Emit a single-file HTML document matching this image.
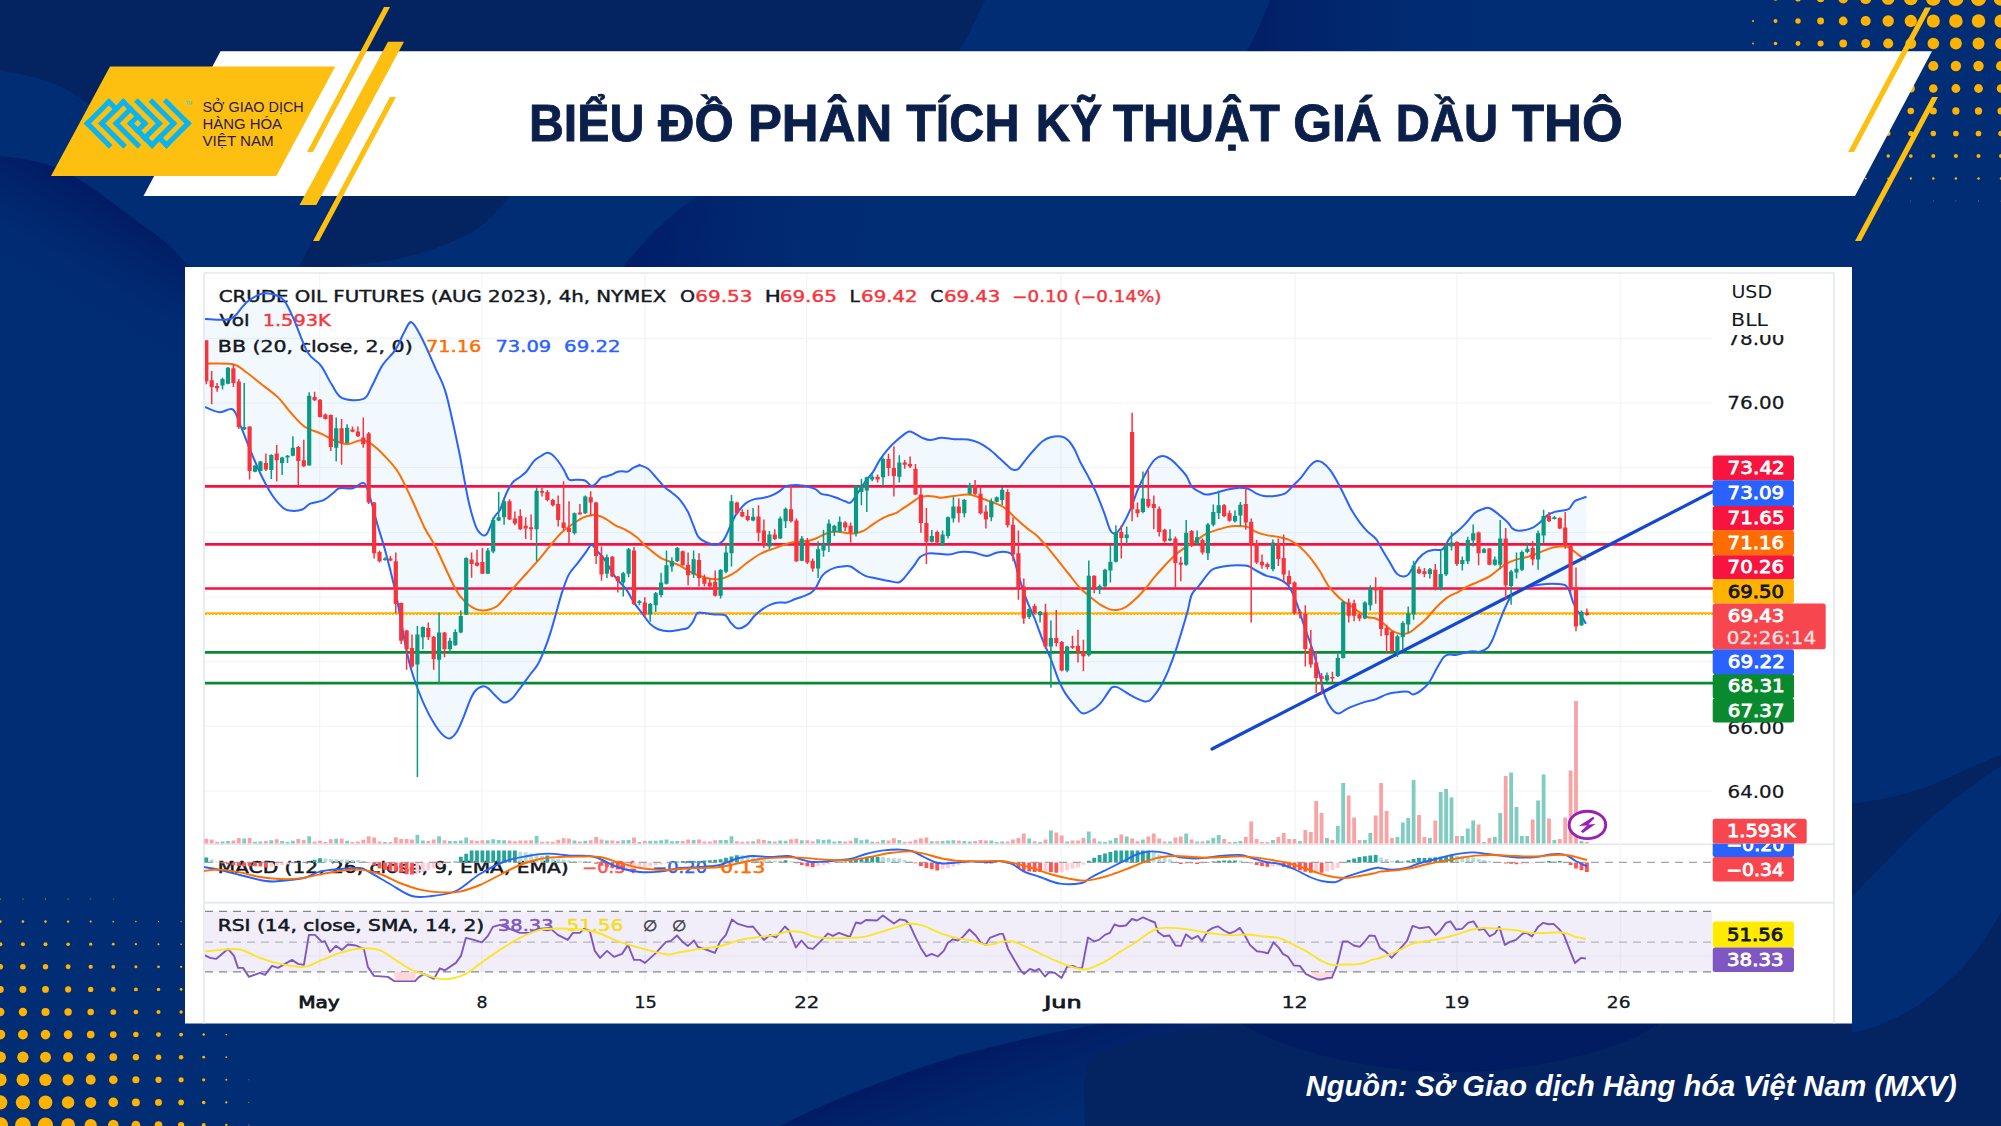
<!DOCTYPE html>
<html lang="vi"><head><meta charset="utf-8"><title>Biểu đồ phân tích kỹ thuật giá dầu thô</title>
<style>html,body{margin:0;padding:0;background:#012d74;}body{width:2001px;height:1126px;overflow:hidden;position:relative}svg{position:absolute;left:0;top:0;display:block}text{white-space:pre}</style></head><body>
<svg width="2001" height="1126" viewBox="0 0 2001 1126">
<defs>
<linearGradient id="gw1" gradientUnits="userSpaceOnUse" x1="100" y1="192" x2="40" y2="296"><stop offset="0" stop-color="#011a63"/><stop offset="1" stop-color="#012d74" stop-opacity="0"/></linearGradient>
<linearGradient id="gw2" x1="0" y1="0" x2="1" y2="0"><stop offset="0" stop-color="#021e66"/><stop offset="1" stop-color="#012d74" stop-opacity="0"/></linearGradient>
<linearGradient id="gw3" gradientUnits="userSpaceOnUse" x1="940" y1="1062" x2="985" y2="1195"><stop offset="0" stop-color="#011a62"/><stop offset="1" stop-color="#012d74" stop-opacity="0"/></linearGradient>
<linearGradient id="gw4" gradientUnits="userSpaceOnUse" x1="650" y1="230" x2="900" y2="267"><stop offset="0" stop-color="#011e69"/><stop offset="1" stop-color="#012d74" stop-opacity="0"/></linearGradient>
</defs>
<rect width="2001" height="1126" fill="#012d74"/>
<path d="M0 0 H985 C975 20 968 38 958 52 H400 V105 H90 C80 98 70 91 60 86 C40 78 20 73 0 71 Z" fill="#032361"/>
<path d="M336 196 H510 C495 215 478 232 453 241 C430 251 400 262 332 267 C320 268 310 268 300 265 L312 241 Z" fill="#032361"/>
<path d="M0 156 C20 158 38 161 53 166.6 C72 174 90 186 106.6 198.5 C126 213 144 226 160 237.6 C170 245 178 254 186 264 L230 290 L185 290 L185 620 L0 620 Z" fill="url(#gw1)"/>
<path d="M1270 0 C1262 20 1255 38 1246 52 H1520 V0 Z" fill="url(#gw2)"/>
<path d="M2001 755 C1975 765 1950 778 1927 787 C1900 796 1875 801 1852 804 V1023 H1240 C1170 1030 1110 1040 1088 1062 C1082 1080 1085 1100 1085 1126 H2001 Z" fill="#032361"/>
<path d="M2001 766 C1988 774 1977 782 1965 791 C1952 801 1940 810 1927 821 C1913 833 1901 846 1889 859 C1876 872 1864 884 1852 897 V1033 C1866 1030 1878 1026 1889 1021 C1903 1015 1916 1008 1927 999 C1941 988 1954 977 1965 965 C1979 948 1991 930 2001 912 Z" fill="#012d74"/>
<path d="M780 1126 C820 1105 860 1090 900 1075 C935 1062 965 1053 1000 1045 C1035 1036 1070 1029 1105 1023 H1240 C1170 1030 1110 1040 1088 1062 C1082 1080 1085 1100 1085 1126 Z" fill="url(#gw3)"/>
<path d="M1240 1023 C1300 1058 1390 1072 1450 1072 C1520 1072 1610 1056 1660 1023 Z" fill="#011c60"/>
<path d="M622 268 C648 236 672 213 698 196 H960 V268 Z" fill="url(#gw4)"/>
<g fill="#ffb300"><circle cx="2001.0" cy="-1.5" r="7.33"/><circle cx="1978.5" cy="-1.5" r="7.55"/><circle cx="1955.9" cy="-1.5" r="7.55"/><circle cx="1933.3" cy="-1.5" r="7.33"/><circle cx="1910.8" cy="-1.5" r="6.87"/><circle cx="1888.2" cy="-1.5" r="6.34"/><circle cx="1865.7" cy="-1.5" r="5.59"/><circle cx="1843.2" cy="-1.5" r="4.91"/><circle cx="1820.6" cy="-1.5" r="3.85"/><circle cx="1798.0" cy="-1.5" r="3.02"/><circle cx="1775.5" cy="-1.5" r="2.19"/><circle cx="1753.0" cy="-1.5" r="1.13"/><circle cx="2001.0" cy="21.0" r="6.56"/><circle cx="1978.5" cy="21.0" r="6.77"/><circle cx="1955.9" cy="21.0" r="6.77"/><circle cx="1933.3" cy="21.0" r="6.56"/><circle cx="1910.8" cy="21.0" r="6.16"/><circle cx="1888.2" cy="21.0" r="5.68"/><circle cx="1865.7" cy="21.0" r="5.01"/><circle cx="1843.2" cy="21.0" r="4.40"/><circle cx="1820.6" cy="21.0" r="3.45"/><circle cx="1798.0" cy="21.0" r="2.71"/><circle cx="1775.5" cy="21.0" r="1.96"/><circle cx="1753.0" cy="21.0" r="1.02"/><circle cx="2001.0" cy="43.5" r="5.80"/><circle cx="1978.5" cy="43.5" r="5.98"/><circle cx="1955.9" cy="43.5" r="5.98"/><circle cx="1933.3" cy="43.5" r="5.80"/><circle cx="1910.8" cy="43.5" r="5.44"/><circle cx="1888.2" cy="43.5" r="5.03"/><circle cx="1865.7" cy="43.5" r="4.43"/><circle cx="1843.2" cy="43.5" r="3.89"/><circle cx="1820.6" cy="43.5" r="3.05"/><circle cx="1798.0" cy="43.5" r="2.39"/><circle cx="1775.5" cy="43.5" r="1.73"/><circle cx="1753.0" cy="43.5" r="0.90"/><circle cx="2001.0" cy="66.0" r="5.04"/><circle cx="1978.5" cy="66.0" r="5.20"/><circle cx="1955.9" cy="66.0" r="5.20"/><circle cx="1933.3" cy="66.0" r="5.04"/><circle cx="1910.8" cy="66.0" r="4.73"/><circle cx="1888.2" cy="66.0" r="4.37"/><circle cx="1865.7" cy="66.0" r="3.85"/><circle cx="1843.2" cy="66.0" r="3.38"/><circle cx="1820.6" cy="66.0" r="2.65"/><circle cx="1798.0" cy="66.0" r="2.08"/><circle cx="1775.5" cy="66.0" r="1.51"/><circle cx="1753.0" cy="66.0" r="0.78"/><circle cx="2001.0" cy="88.5" r="4.28"/><circle cx="1978.5" cy="88.5" r="4.41"/><circle cx="1955.9" cy="88.5" r="4.41"/><circle cx="1933.3" cy="88.5" r="4.28"/><circle cx="1910.8" cy="88.5" r="4.02"/><circle cx="1888.2" cy="88.5" r="3.71"/><circle cx="1865.7" cy="88.5" r="3.27"/><circle cx="1843.2" cy="88.5" r="2.87"/><circle cx="1820.6" cy="88.5" r="2.25"/><circle cx="1798.0" cy="88.5" r="1.77"/><circle cx="1775.5" cy="88.5" r="1.28"/><circle cx="1753.0" cy="88.5" r="0.66"/><circle cx="2001.0" cy="111.0" r="3.52"/><circle cx="1978.5" cy="111.0" r="3.63"/><circle cx="1955.9" cy="111.0" r="3.63"/><circle cx="1933.3" cy="111.0" r="3.52"/><circle cx="1910.8" cy="111.0" r="3.30"/><circle cx="1888.2" cy="111.0" r="3.05"/><circle cx="1865.7" cy="111.0" r="2.68"/><circle cx="1843.2" cy="111.0" r="2.36"/><circle cx="1820.6" cy="111.0" r="1.85"/><circle cx="1798.0" cy="111.0" r="1.45"/><circle cx="1775.5" cy="111.0" r="1.05"/><circle cx="1753.0" cy="111.0" r="0.54"/><circle cx="2001.0" cy="133.5" r="2.76"/><circle cx="1978.5" cy="133.5" r="2.84"/><circle cx="1955.9" cy="133.5" r="2.84"/><circle cx="1933.3" cy="133.5" r="2.76"/><circle cx="1910.8" cy="133.5" r="2.59"/><circle cx="1888.2" cy="133.5" r="2.39"/><circle cx="1865.7" cy="133.5" r="2.10"/><circle cx="1843.2" cy="133.5" r="1.85"/><circle cx="1820.6" cy="133.5" r="1.45"/><circle cx="1798.0" cy="133.5" r="1.14"/><circle cx="1775.5" cy="133.5" r="0.82"/><circle cx="1753.0" cy="133.5" r="0.43"/><circle cx="2001.0" cy="156.0" r="2.00"/><circle cx="1978.5" cy="156.0" r="2.06"/><circle cx="1955.9" cy="156.0" r="2.06"/><circle cx="1933.3" cy="156.0" r="2.00"/><circle cx="1910.8" cy="156.0" r="1.87"/><circle cx="1888.2" cy="156.0" r="1.73"/><circle cx="1865.7" cy="156.0" r="1.52"/><circle cx="1843.2" cy="156.0" r="1.34"/><circle cx="1820.6" cy="156.0" r="1.05"/><circle cx="1798.0" cy="156.0" r="0.82"/><circle cx="1775.5" cy="156.0" r="0.60"/><circle cx="2001.0" cy="178.5" r="1.24"/><circle cx="1978.5" cy="178.5" r="1.27"/><circle cx="1955.9" cy="178.5" r="1.27"/><circle cx="1933.3" cy="178.5" r="1.24"/><circle cx="1910.8" cy="178.5" r="1.16"/><circle cx="1888.2" cy="178.5" r="1.07"/><circle cx="1865.7" cy="178.5" r="0.94"/><circle cx="1843.2" cy="178.5" r="0.83"/><circle cx="1820.6" cy="178.5" r="0.65"/><circle cx="1798.0" cy="178.5" r="0.51"/><circle cx="2001.0" cy="201.0" r="0.47"/><circle cx="1978.5" cy="201.0" r="0.49"/><circle cx="1955.9" cy="201.0" r="0.49"/><circle cx="1933.3" cy="201.0" r="0.47"/><circle cx="1910.8" cy="201.0" r="0.44"/><circle cx="1888.2" cy="201.0" r="0.41"/><circle cx="0.3" cy="1125.0" r="7.80"/><circle cx="22.9" cy="1125.0" r="7.80"/><circle cx="45.5" cy="1125.0" r="7.57"/><circle cx="68.1" cy="1125.0" r="6.86"/><circle cx="90.7" cy="1125.0" r="6.08"/><circle cx="113.3" cy="1125.0" r="5.30"/><circle cx="135.9" cy="1125.0" r="4.37"/><circle cx="158.5" cy="1125.0" r="3.82"/><circle cx="181.1" cy="1125.0" r="3.12"/><circle cx="203.7" cy="1125.0" r="1.95"/><circle cx="226.3" cy="1125.0" r="1.25"/><circle cx="248.9" cy="1125.0" r="0.55"/><circle cx="0.3" cy="1102.4" r="7.08"/><circle cx="22.9" cy="1102.4" r="7.08"/><circle cx="45.5" cy="1102.4" r="6.87"/><circle cx="68.1" cy="1102.4" r="6.23"/><circle cx="90.7" cy="1102.4" r="5.52"/><circle cx="113.3" cy="1102.4" r="4.82"/><circle cx="135.9" cy="1102.4" r="3.97"/><circle cx="158.5" cy="1102.4" r="3.47"/><circle cx="181.1" cy="1102.4" r="2.83"/><circle cx="203.7" cy="1102.4" r="1.77"/><circle cx="226.3" cy="1102.4" r="1.13"/><circle cx="248.9" cy="1102.4" r="0.50"/><circle cx="0.3" cy="1079.8" r="6.36"/><circle cx="22.9" cy="1079.8" r="6.36"/><circle cx="45.5" cy="1079.8" r="6.17"/><circle cx="68.1" cy="1079.8" r="5.60"/><circle cx="90.7" cy="1079.8" r="4.96"/><circle cx="113.3" cy="1079.8" r="4.33"/><circle cx="135.9" cy="1079.8" r="3.56"/><circle cx="158.5" cy="1079.8" r="3.12"/><circle cx="181.1" cy="1079.8" r="2.55"/><circle cx="203.7" cy="1079.8" r="1.59"/><circle cx="226.3" cy="1079.8" r="1.02"/><circle cx="248.9" cy="1079.8" r="0.45"/><circle cx="0.3" cy="1057.2" r="5.64"/><circle cx="22.9" cy="1057.2" r="5.64"/><circle cx="45.5" cy="1057.2" r="5.47"/><circle cx="68.1" cy="1057.2" r="4.97"/><circle cx="90.7" cy="1057.2" r="4.40"/><circle cx="113.3" cy="1057.2" r="3.84"/><circle cx="135.9" cy="1057.2" r="3.16"/><circle cx="158.5" cy="1057.2" r="2.77"/><circle cx="181.1" cy="1057.2" r="2.26"/><circle cx="203.7" cy="1057.2" r="1.41"/><circle cx="226.3" cy="1057.2" r="0.90"/><circle cx="0.3" cy="1034.6" r="4.93"/><circle cx="22.9" cy="1034.6" r="4.93"/><circle cx="45.5" cy="1034.6" r="4.78"/><circle cx="68.1" cy="1034.6" r="4.33"/><circle cx="90.7" cy="1034.6" r="3.84"/><circle cx="113.3" cy="1034.6" r="3.35"/><circle cx="135.9" cy="1034.6" r="2.76"/><circle cx="158.5" cy="1034.6" r="2.41"/><circle cx="181.1" cy="1034.6" r="1.97"/><circle cx="203.7" cy="1034.6" r="1.23"/><circle cx="226.3" cy="1034.6" r="0.79"/><circle cx="0.3" cy="1012.0" r="4.21"/><circle cx="22.9" cy="1012.0" r="4.21"/><circle cx="45.5" cy="1012.0" r="4.08"/><circle cx="68.1" cy="1012.0" r="3.70"/><circle cx="90.7" cy="1012.0" r="3.28"/><circle cx="113.3" cy="1012.0" r="2.86"/><circle cx="135.9" cy="1012.0" r="2.36"/><circle cx="158.5" cy="1012.0" r="2.06"/><circle cx="181.1" cy="1012.0" r="1.68"/><circle cx="203.7" cy="1012.0" r="1.05"/><circle cx="226.3" cy="1012.0" r="0.67"/><circle cx="0.3" cy="989.4" r="3.49"/><circle cx="22.9" cy="989.4" r="3.49"/><circle cx="45.5" cy="989.4" r="3.38"/><circle cx="68.1" cy="989.4" r="3.07"/><circle cx="90.7" cy="989.4" r="2.72"/><circle cx="113.3" cy="989.4" r="2.37"/><circle cx="135.9" cy="989.4" r="1.95"/><circle cx="158.5" cy="989.4" r="1.71"/><circle cx="181.1" cy="989.4" r="1.40"/><circle cx="203.7" cy="989.4" r="0.87"/><circle cx="226.3" cy="989.4" r="0.56"/><circle cx="0.3" cy="966.8" r="2.77"/><circle cx="22.9" cy="966.8" r="2.77"/><circle cx="45.5" cy="966.8" r="2.69"/><circle cx="68.1" cy="966.8" r="2.44"/><circle cx="90.7" cy="966.8" r="2.16"/><circle cx="113.3" cy="966.8" r="1.88"/><circle cx="135.9" cy="966.8" r="1.55"/><circle cx="158.5" cy="966.8" r="1.36"/><circle cx="181.1" cy="966.8" r="1.11"/><circle cx="203.7" cy="966.8" r="0.69"/><circle cx="226.3" cy="966.8" r="0.44"/><circle cx="0.3" cy="944.2" r="2.05"/><circle cx="22.9" cy="944.2" r="2.05"/><circle cx="45.5" cy="944.2" r="1.99"/><circle cx="68.1" cy="944.2" r="1.80"/><circle cx="90.7" cy="944.2" r="1.60"/><circle cx="113.3" cy="944.2" r="1.39"/><circle cx="135.9" cy="944.2" r="1.15"/><circle cx="158.5" cy="944.2" r="1.00"/><circle cx="181.1" cy="944.2" r="0.82"/><circle cx="203.7" cy="944.2" r="0.51"/><circle cx="0.3" cy="921.6" r="1.33"/><circle cx="22.9" cy="921.6" r="1.33"/><circle cx="45.5" cy="921.6" r="1.29"/><circle cx="68.1" cy="921.6" r="1.17"/><circle cx="90.7" cy="921.6" r="1.04"/><circle cx="113.3" cy="921.6" r="0.91"/><circle cx="135.9" cy="921.6" r="0.75"/><circle cx="158.5" cy="921.6" r="0.65"/><circle cx="181.1" cy="921.6" r="0.53"/><circle cx="0.3" cy="899.0" r="0.61"/><circle cx="22.9" cy="899.0" r="0.61"/><circle cx="45.5" cy="899.0" r="0.59"/><circle cx="68.1" cy="899.0" r="0.54"/><circle cx="90.7" cy="899.0" r="0.48"/><circle cx="113.3" cy="899.0" r="0.42"/></g>
<path d="M220.5 51.3 H1932 L1855 196 H143.5 Z" fill="#fff"/>
<path d="M110 66.4 H335.3 L276.3 176 H51 Z" fill="#fdc010"/>
<g fill="#fdc010"><path d="M384 7 H390 L313 152 H307 Z"/><path d="M388 41.7 H404 L316.3 205 H299.5 Z"/><path d="M390 97 H396 L319 241 H313 Z"/></g>
<g fill="#fdc010"><path d="M1925 7.5 H1931 L1854 152 H1848 Z"/><path d="M1932 97 H1938 L1861 241 H1855 Z"/></g>
<g font-family="'Liberation Sans', sans-serif" font-weight="bold" font-size="51" fill="#0b1f4b" stroke="#0b1f4b" stroke-width="0.9"><text transform="translate(528.96 141) scale(0.9473 1)">BIỂU</text><text transform="translate(658.00 141) scale(0.9902 1)">ĐỒ</text><text transform="translate(747.90 141) scale(0.9987 1)">PHÂN</text><text transform="translate(906.20 141) scale(0.9522 1)">TÍCH</text><text transform="translate(1035.79 141) scale(0.9362 1)">KỸ</text><text transform="translate(1113.00 141) scale(0.9650 1)">THUẬT</text><text transform="translate(1293.14 141) scale(0.9779 1)">GIÁ</text><text transform="translate(1395.82 141) scale(0.9268 1)">DẦU</text><text transform="translate(1512.00 141) scale(1.0294 1)">THÔ</text></g>
<g transform="matrix(3.5980 3.5980 3.5980 -3.5980 137.7 123.46)" fill="#0ab4ef"><rect x="-7.5" y="-7.5" width="1" height="7"/><rect x="-5.5" y="-5.5" width="1" height="7"/><rect x="-3.5" y="-3.5" width="1" height="5"/><rect x="-1.5" y="-1.5" width="1" height="3"/><rect x="0.5" y="-1.5" width="1" height="3"/><rect x="2.5" y="-1.5" width="1" height="5"/><rect x="4.5" y="-1.5" width="1" height="7"/><rect x="6.5" y="0.5" width="1" height="7"/><rect x="-7.5" y="-7.5" width="7.0" height="1"/><rect x="-5.5" y="-5.5" width="7.0" height="1"/><rect x="-3.5" y="-3.5" width="7.0" height="1"/><rect x="-7.5" y="-1.5" width="3.0" height="1"/><rect x="-1.5" y="-1.5" width="7.0" height="1"/><rect x="-5.5" y="0.5" width="7.0" height="1"/><rect x="4.5" y="0.5" width="3.0" height="1"/><rect x="-3.5" y="2.5" width="7.0" height="1"/><rect x="-1.5" y="4.5" width="7.0" height="1"/><rect x="0.5" y="6.5" width="7.0" height="1"/></g>
<text x="185.5" y="105.3" font-family="'Liberation Sans', sans-serif" font-size="4.6" font-weight="bold" fill="#6cc5b0">TM</text>
<g font-family="'Liberation Sans', sans-serif" font-size="14" fill="#2b1a55"><text x="202.5" y="111.9" textLength="101.2" lengthAdjust="spacingAndGlyphs">SỞ GIAO DỊCH</text><text x="202.5" y="128.7" textLength="79.4" lengthAdjust="spacingAndGlyphs">HÀNG HÓA</text><text x="202.5" y="145.9" textLength="71.2" lengthAdjust="spacingAndGlyphs">VIỆT NAM</text></g>
<rect x="185" y="267" width="1667" height="756.5" fill="#fff"/>
<g fill="none" stroke="#e3e6ee" stroke-width="1.6"><path d="M204 273 H1834 V1023.5"/><path d="M204 273 V1023.5"/><path d="M204 844.2 H1834 M204 902.6 H1834"/></g>
<g stroke="#f2f4f8" stroke-width="1.2" fill="none"><path d="M319.7 274 V982"/><path d="M481.8 274 V982"/><path d="M645 274 V982"/><path d="M806.8 274 V982"/><path d="M1061 274 V982"/><path d="M1295 274 V982"/><path d="M1457 274 V982"/><path d="M1620.3 274 V982"/><path d="M205 338.3 H1712"/><path d="M205 403 H1712"/><path d="M205 467.7 H1712"/><path d="M205 532.3 H1712"/><path d="M205 597 H1712"/><path d="M205 661.7 H1712"/><path d="M205 726.3 H1712"/><path d="M205 791 H1712"/></g>
<clipPath id="cp"><rect x="205" y="274" width="1508" height="570"/></clipPath>
<g clip-path="url(#cp)">
<path d="M205.0 319.0C209.2 319.0 224.1 321.0 230.3 319.0C236.5 317.0 239.2 310.1 242.3 307.0C245.4 303.9 245.6 302.5 249.0 300.3C252.3 298.1 257.8 294.5 262.3 293.6C266.7 292.8 271.8 293.6 275.6 295.0C279.4 296.3 281.8 297.4 284.9 301.6C288.0 305.9 290.5 311.9 294.3 320.3C298.0 328.7 303.1 344.7 307.6 352.3C312.0 359.8 316.9 360.3 320.9 365.6C324.9 370.9 328.0 378.8 331.6 384.3C335.1 389.7 336.9 395.7 342.2 398.1C347.6 400.6 358.7 400.8 363.5 398.9C368.4 397.0 368.4 392.5 371.5 386.9C374.7 381.4 378.2 371.8 382.2 365.6C386.2 359.4 392.0 354.9 395.5 349.6C399.1 344.3 400.9 338.2 403.5 333.6C406.2 329.0 408.4 321.3 411.5 322.2C414.6 323.1 418.2 331.3 422.2 339.0C426.2 346.6 431.7 359.8 435.5 368.3C439.3 376.7 442.2 381.6 444.8 389.6C447.5 397.6 449.0 405.6 451.5 416.2C453.9 426.9 456.8 440.2 459.5 453.5C462.1 466.9 465.3 485.5 467.5 496.2C469.7 506.8 471.0 511.7 472.8 517.5C474.6 523.3 475.9 527.9 478.1 530.8C480.4 533.7 483.5 537.0 486.1 534.8C488.8 532.6 491.8 521.6 494.1 517.5C496.4 513.4 498.4 513.0 500.0 510.0C501.6 506.9 502.5 502.6 504.0 499.0C505.5 495.3 507.3 491.0 509.0 488.0C510.7 485.0 512.2 482.8 514.0 481.0C515.8 479.1 518.0 478.5 520.0 477.0C522.0 475.5 524.2 474.0 526.0 472.0C527.8 470.0 529.5 467.0 531.0 465.0C532.5 463.0 533.3 461.5 535.0 460.0C536.6 458.5 539.0 457.2 541.0 456.0C543.0 454.8 545.1 452.9 547.0 452.7C548.8 452.4 550.1 453.1 552.0 454.5C553.8 455.9 556.0 458.4 558.0 461.0C560.0 463.6 562.1 466.9 564.0 470.0C565.8 473.1 567.0 477.8 569.0 479.5C571.0 481.1 573.3 479.6 576.0 479.8C578.6 479.9 582.5 479.5 585.0 480.5C587.5 481.5 589.3 485.1 591.0 485.8C592.6 486.4 593.3 485.8 595.0 484.5C596.6 483.2 599.1 479.3 600.9 478.0C602.8 476.6 604.1 477.1 605.9 476.5C607.8 475.9 610.1 475.2 611.9 474.5C613.8 473.7 615.3 472.5 616.9 472.0C618.6 471.4 620.1 471.3 621.9 471.2C623.8 471.1 626.1 472.0 627.9 471.5C629.8 470.9 631.0 469.0 632.9 468.0C634.8 466.9 638.3 465.6 639.4 465.2C640.6 464.7 638.6 464.7 640.0 465.3C641.4 465.9 645.3 466.7 648.0 468.7C650.7 470.7 653.3 474.3 656.0 477.3C658.7 480.2 661.3 484.0 664.0 486.6C666.6 489.2 669.3 490.5 672.0 492.7C674.6 494.9 677.3 496.7 680.0 499.9C682.6 503.1 685.7 507.7 688.0 511.9C690.2 516.1 691.5 521.0 693.3 525.2C695.1 529.4 696.4 534.3 698.6 537.2C700.8 540.1 703.7 541.3 706.6 542.5C709.5 543.8 713.3 544.9 715.9 544.7C718.6 544.5 720.8 542.9 722.6 541.2C724.4 539.5 725.3 537.2 726.6 534.5C727.9 531.9 729.0 528.6 730.6 525.2C732.1 521.9 734.1 517.5 735.9 514.6C737.7 511.7 739.5 509.9 741.2 507.9C743.0 505.9 744.4 504.0 746.6 502.6C748.8 501.1 751.9 499.9 754.6 499.1C757.2 498.4 759.9 498.6 762.6 498.0C765.2 497.5 767.9 496.9 770.6 495.9C773.2 494.9 776.1 493.5 778.5 491.9C781.0 490.4 783.0 487.7 785.2 486.6C787.4 485.5 789.4 485.5 791.9 485.3C794.3 485.0 797.2 485.0 799.9 485.3C802.5 485.5 805.2 485.9 807.9 486.6C810.5 487.3 813.6 488.1 815.8 489.3C818.1 490.5 819.0 492.8 821.2 493.8C823.4 494.8 826.5 494.7 829.2 495.4C831.8 496.1 834.5 497.1 837.2 498.0C839.8 499.0 842.9 500.5 845.2 501.2C847.4 502.0 848.7 503.5 850.5 502.6C852.3 501.7 854.0 498.4 855.8 495.9C857.6 493.5 859.4 490.6 861.1 487.9C862.9 485.3 864.5 482.6 866.5 479.9C868.5 477.3 870.9 475.3 873.1 471.9C875.3 468.6 877.3 463.7 879.8 459.9C882.2 456.2 885.1 452.4 887.8 449.3C890.4 446.2 893.1 443.7 895.8 441.3C898.4 438.9 901.5 436.3 903.8 434.6C906.0 433.0 907.3 431.7 909.1 431.4C910.9 431.2 912.2 432.2 914.4 433.3C916.6 434.4 919.8 436.7 922.4 437.8C925.1 438.9 927.3 440.0 930.4 440.0C933.6 440.0 937.3 438.0 941.3 437.8C945.4 437.7 950.2 438.9 954.6 439.2C959.1 439.4 964.0 438.9 968.0 439.4C972.0 440.0 975.1 441.0 978.6 442.6C982.2 444.3 985.7 446.6 989.3 449.3C992.8 452.0 996.8 455.8 999.9 458.6C1003.0 461.4 1005.7 464.2 1007.9 466.1C1010.1 467.9 1011.5 469.4 1013.3 469.8C1015.0 470.2 1016.4 470.6 1018.6 468.7C1020.8 466.9 1023.9 461.9 1026.6 458.6C1029.2 455.4 1031.9 452.2 1034.6 449.3C1037.2 446.4 1039.9 443.3 1042.6 441.3C1045.2 439.3 1047.4 438.1 1050.6 437.3C1053.7 436.5 1058.3 436.1 1061.2 436.5C1064.1 436.9 1065.6 437.8 1067.9 440.0C1070.1 442.1 1072.5 445.7 1074.5 449.3C1076.5 452.8 1077.6 456.8 1079.9 461.3C1082.1 465.7 1085.2 470.8 1087.9 475.9C1090.5 481.0 1093.2 485.9 1095.8 491.9C1098.5 497.9 1101.4 505.5 1103.8 511.9C1106.3 518.3 1108.5 527.0 1110.5 530.6C1112.5 534.1 1113.8 534.1 1115.8 533.2C1117.8 532.3 1120.0 529.2 1122.5 525.2C1124.9 521.2 1127.8 515.5 1130.5 509.2C1133.1 503.0 1135.8 494.1 1138.5 487.9C1141.1 481.7 1143.8 476.6 1146.5 471.9C1149.1 467.3 1151.8 462.6 1154.5 459.9C1157.1 457.3 1159.8 456.1 1162.5 456.0C1165.1 455.8 1167.8 457.4 1170.4 459.1C1173.1 460.9 1175.8 463.8 1178.4 466.6C1181.1 469.4 1184.2 472.6 1186.4 475.9C1188.7 479.3 1189.5 483.9 1191.8 486.6C1194.0 489.3 1197.1 490.6 1199.8 491.9C1202.4 493.3 1203.3 494.9 1207.7 494.6C1212.2 494.2 1221.7 490.9 1226.6 489.8C1231.6 488.7 1233.7 488.1 1237.3 487.9C1240.9 487.8 1244.8 487.9 1248.0 488.7C1251.1 489.6 1253.3 492.1 1256.0 493.3C1258.6 494.5 1260.8 495.5 1263.9 495.9C1267.1 496.4 1271.0 496.4 1274.6 495.9C1278.2 495.5 1282.1 495.0 1285.3 493.3C1288.4 491.5 1290.6 487.9 1293.3 485.3C1295.9 482.6 1298.6 480.4 1301.2 477.3C1303.9 474.2 1306.8 469.3 1309.2 466.6C1311.7 464.0 1313.7 462.0 1315.9 461.3C1318.1 460.6 1320.1 461.1 1322.6 462.6C1325.0 464.2 1327.9 467.1 1330.6 470.6C1333.2 474.2 1336.1 479.5 1338.5 483.9C1341.0 488.4 1343.0 492.8 1345.2 497.3C1347.4 501.7 1349.4 506.4 1351.9 510.6C1354.3 514.8 1357.2 519.0 1359.9 522.6C1362.5 526.1 1365.2 529.2 1367.9 531.9C1370.5 534.6 1373.6 535.9 1375.8 538.6C1378.1 541.2 1379.0 544.1 1381.2 547.9C1383.4 551.7 1386.5 556.9 1389.2 561.2C1391.8 565.6 1394.3 571.6 1397.2 574.0C1400.0 576.4 1404.0 576.7 1406.5 575.9C1408.9 575.1 1409.8 572.1 1411.8 569.2C1413.8 566.3 1416.0 561.4 1418.5 558.5C1420.9 555.7 1423.8 553.3 1426.5 551.9C1429.1 550.4 1431.8 550.2 1434.5 549.8C1437.1 549.3 1439.8 551.3 1442.5 549.2C1445.1 547.1 1447.8 540.3 1450.4 537.2C1453.1 534.1 1455.8 533.0 1458.4 530.6C1461.1 528.1 1463.8 525.5 1466.4 522.6C1469.1 519.7 1471.8 515.5 1474.4 513.3C1477.1 511.0 1479.8 510.1 1482.4 509.3C1485.1 508.5 1486.4 506.5 1490.4 508.5C1494.4 510.5 1503.0 518.0 1506.6 521.3C1510.2 524.5 1510.2 526.4 1511.9 527.9C1513.7 529.5 1515.0 530.2 1517.3 530.6C1519.5 530.9 1522.6 530.6 1525.3 530.1C1527.9 529.5 1530.8 528.6 1533.3 527.4C1535.7 526.1 1537.7 524.5 1539.9 522.6C1542.1 520.7 1544.1 517.7 1546.6 515.9C1549.0 514.2 1551.9 512.8 1554.6 511.9C1557.2 511.0 1560.1 511.1 1562.6 510.6C1565.0 510.1 1567.2 510.3 1569.2 508.7C1571.2 507.2 1572.6 503.0 1574.5 501.3C1576.5 499.6 1579.2 499.4 1581.2 498.6C1583.2 497.9 1585.6 497.1 1586.5 496.8L1586.0 623.8C1585.2 622.5 1582.7 618.1 1581.2 615.8C1579.7 613.6 1578.5 612.7 1577.2 610.5C1575.9 608.3 1574.5 605.9 1573.2 602.5C1571.9 599.2 1570.6 593.4 1569.2 590.5C1567.9 587.6 1567.2 586.3 1565.2 585.2C1563.2 584.1 1560.3 584.1 1557.2 583.9C1554.1 583.7 1550.1 583.7 1546.6 583.9C1543.0 584.1 1539.5 584.5 1535.9 585.2C1532.4 585.9 1528.4 586.8 1525.3 587.9C1522.1 589.0 1519.7 590.3 1517.3 591.9C1514.8 593.4 1512.8 594.1 1510.6 597.2C1508.4 600.3 1506.2 605.4 1503.9 610.5C1501.7 615.6 1498.9 623.2 1497.1 627.8C1495.3 632.5 1494.6 635.1 1493.1 638.5C1491.5 641.8 1490.0 645.6 1487.7 647.8C1485.5 650.0 1482.4 651.2 1479.8 651.8C1477.1 652.4 1474.4 651.0 1471.8 651.3C1469.1 651.5 1466.4 652.5 1463.8 653.1C1461.1 653.7 1458.2 654.8 1455.8 655.0C1453.3 655.2 1451.1 654.1 1449.1 654.5C1447.1 654.8 1445.8 654.9 1443.8 657.1C1441.8 659.3 1439.6 663.6 1437.1 667.8C1434.7 672.0 1431.8 678.7 1429.1 682.4C1426.5 686.2 1423.8 688.4 1421.1 690.4C1418.5 692.4 1415.4 694.2 1413.1 694.4C1410.9 694.6 1410.5 692.1 1407.8 691.8C1405.2 691.4 1400.7 691.8 1397.2 692.3C1393.6 692.7 1390.1 693.3 1386.5 694.4C1383.0 695.6 1379.4 698.0 1375.8 699.2C1372.3 700.5 1368.7 700.8 1365.2 701.9C1361.6 703.0 1357.6 704.4 1354.5 705.6C1351.4 706.8 1349.2 707.7 1346.5 709.1C1343.9 710.4 1341.0 713.6 1338.5 713.6C1336.1 713.6 1334.1 711.8 1331.9 709.1C1329.7 706.3 1327.2 702.6 1325.2 697.1C1323.2 691.5 1322.1 684.0 1319.9 675.8C1317.7 667.6 1314.6 656.2 1311.9 647.8C1309.2 639.4 1306.6 632.9 1303.9 625.2C1301.2 617.4 1298.6 607.8 1295.9 601.2C1293.3 594.5 1291.0 589.0 1287.9 585.2C1284.8 581.4 1280.8 580.1 1277.3 578.5C1273.7 577.0 1270.2 577.2 1266.6 575.9C1263.1 574.5 1259.1 572.2 1256.0 570.5C1252.8 568.9 1251.1 566.9 1248.0 566.0C1244.8 565.1 1240.9 565.2 1237.3 565.2C1233.7 565.2 1230.7 565.3 1226.6 566.0C1222.6 566.7 1216.4 567.5 1213.1 569.2C1209.7 570.8 1208.9 573.0 1206.4 575.8C1204.0 578.7 1200.9 583.4 1198.4 586.5C1196.0 589.6 1193.5 590.5 1191.8 594.5C1190.0 598.5 1189.3 604.7 1187.8 610.5C1186.2 616.3 1184.4 622.5 1182.4 629.1C1180.4 635.8 1178.2 643.3 1175.8 650.4C1173.3 657.6 1170.4 665.5 1167.8 671.8C1165.1 678.0 1162.5 683.3 1159.8 687.7C1157.1 692.2 1153.6 696.2 1151.8 698.4C1150.0 700.6 1150.5 700.3 1149.2 700.7C1147.9 701.2 1146.5 701.9 1143.9 701.3C1141.2 700.6 1136.3 698.3 1133.2 696.7C1130.1 695.2 1127.9 693.5 1125.2 691.9C1122.6 690.3 1119.5 687.9 1117.2 687.1C1115.0 686.4 1113.7 686.2 1111.9 687.4C1110.1 688.7 1108.6 691.8 1106.6 694.6C1104.6 697.4 1102.4 701.4 1099.9 703.9C1097.5 706.5 1094.8 708.5 1091.9 710.1C1089.0 711.6 1085.5 714.1 1082.6 713.3C1079.7 712.5 1077.5 708.6 1074.6 705.3C1071.7 701.9 1067.9 697.3 1065.2 693.1C1062.5 688.8 1061.0 685.5 1058.5 679.8C1056.1 674.0 1053.2 665.1 1050.6 658.4C1047.9 651.8 1045.2 646.4 1042.6 639.8C1039.9 633.1 1037.2 625.1 1034.6 618.5C1031.9 611.8 1029.2 606.9 1026.6 599.8C1023.9 592.7 1020.8 583.0 1018.6 575.8C1016.4 568.7 1015.0 561.1 1013.3 557.2C1011.5 553.3 1010.6 553.2 1007.9 552.4C1005.3 551.6 1000.8 551.8 997.3 552.4C993.7 553.0 990.6 555.9 986.6 555.9C982.6 555.9 977.7 553.1 973.3 552.4C968.8 551.7 964.0 551.5 960.0 551.9C956.0 552.2 954.0 554.3 949.3 554.5C944.6 554.8 935.6 553.3 931.7 553.2C927.9 553.1 928.4 553.3 926.4 554.0C924.4 554.7 921.8 555.3 919.8 557.2C917.8 559.1 916.2 562.7 914.4 565.2C912.6 567.6 910.9 569.6 909.1 571.8C907.3 574.1 905.5 576.7 903.8 578.5C902.0 580.3 900.7 582.1 898.4 582.5C896.2 583.0 893.1 581.6 890.4 581.2C887.8 580.7 885.1 580.4 882.5 579.8C879.8 579.3 877.1 578.6 874.5 578.0C871.8 577.4 869.1 577.4 866.5 576.4C863.8 575.4 861.1 573.5 858.5 571.8C855.8 570.2 853.1 567.4 850.5 566.5C847.8 565.6 845.2 566.3 842.5 566.5C839.8 566.7 837.2 567.0 834.5 567.9C831.8 568.7 828.7 570.3 826.5 571.8C824.3 573.4 823.0 574.5 821.2 577.2C819.4 579.8 817.6 585.2 815.8 587.8C814.1 590.5 812.7 591.7 810.5 593.2C808.3 594.6 805.2 595.6 802.5 596.6C799.9 597.6 797.2 598.3 794.5 599.3C791.9 600.3 789.2 602.0 786.5 602.5C783.9 603.0 781.2 602.1 778.5 602.5C775.9 602.8 773.2 603.5 770.6 604.6C767.9 605.7 765.2 607.3 762.6 609.1C759.9 611.0 757.2 613.1 754.6 615.8C751.9 618.5 749.5 623.0 746.6 625.1C743.7 627.2 739.9 628.8 737.2 628.3C734.6 627.9 732.6 624.6 730.6 622.5C728.6 620.3 727.9 616.6 725.3 615.3C722.6 613.9 718.2 614.8 714.6 614.5C711.0 614.1 706.8 613.4 703.9 613.1C701.1 612.9 699.1 611.8 697.3 613.1C695.5 614.5 694.8 618.7 693.3 621.1C691.7 623.6 690.2 626.4 688.0 627.8C685.7 629.2 683.1 629.1 680.0 629.7C676.9 630.2 673.0 631.3 669.3 631.3C665.7 631.2 661.3 630.4 658.1 629.2C654.9 628.0 652.7 626.5 650.1 623.9C647.4 621.2 644.8 616.8 642.1 613.2C639.4 609.7 636.8 606.6 634.1 602.6C631.4 598.6 629.2 593.5 626.1 589.2C623.0 585.0 619.0 582.1 615.4 577.2C611.9 572.4 607.9 564.4 604.8 559.9C601.7 555.5 599.0 553.1 596.8 550.6C594.6 548.1 593.2 544.5 591.5 544.7C589.7 545.0 588.4 549.0 586.1 551.9C583.9 554.9 581.0 558.8 578.1 562.6C575.3 566.4 571.5 569.7 568.8 574.6C566.2 579.5 564.2 585.9 562.2 591.9C560.2 597.9 558.6 604.3 556.8 610.6C555.1 616.8 553.3 623.4 551.5 629.2C549.7 635.0 548.4 639.4 546.2 645.2C544.0 651.0 540.8 659.0 538.2 663.8C535.5 668.7 533.3 670.3 530.2 674.5C527.1 678.7 522.6 685.1 519.5 689.1C516.4 693.2 514.2 696.8 511.5 699.0C508.9 701.2 506.4 703.2 503.5 702.5C500.7 701.7 496.9 696.9 494.2 694.5C491.6 692.0 489.6 689.1 487.6 687.8C485.6 686.5 484.2 686.0 482.2 686.5C480.2 686.9 477.6 688.3 475.6 690.5C473.6 692.7 472.2 695.4 470.2 699.8C468.2 704.2 465.8 711.8 463.6 717.1C461.4 722.5 459.2 728.2 456.9 731.8C454.6 735.3 452.2 738.0 449.7 738.4C447.3 738.9 444.8 736.9 442.3 734.4C439.7 732.0 436.9 728.0 434.3 723.8C431.6 719.6 428.9 714.7 426.3 709.1C423.6 703.6 421.0 697.6 418.3 690.5C415.6 683.4 412.5 674.5 410.3 666.5C408.1 658.5 406.7 651.4 405.0 642.5C403.2 633.6 401.4 622.5 399.6 613.2C397.9 603.9 396.8 597.2 394.3 586.6C391.8 575.9 387.8 560.1 384.9 549.5C382.0 538.9 379.5 532.2 376.9 522.8C374.2 513.5 371.1 500.2 368.9 493.5C366.7 486.9 366.2 483.7 363.5 482.9C360.9 482.0 356.9 487.3 352.9 488.2C348.9 489.1 342.7 487.5 339.6 488.2C336.5 488.9 336.9 490.2 334.2 492.2C331.6 494.2 327.6 498.3 323.6 500.2C319.6 502.1 313.8 502.1 310.2 503.6C306.7 505.2 305.4 508.3 302.3 509.5C299.1 510.7 294.7 511.1 291.6 510.8C288.5 510.6 286.7 510.6 283.6 508.2C280.5 505.7 276.5 501.3 272.9 496.2C269.4 491.1 265.8 484.6 262.3 477.5C258.7 470.4 255.2 462.0 251.6 453.5C248.1 445.1 244.1 434.2 241.0 426.9C237.9 419.6 236.5 412.0 233.0 409.6C229.4 407.1 224.3 412.7 219.6 412.2C215.0 411.8 207.4 407.8 205.0 406.9Z" fill="#2196f3" fill-opacity="0.06"/>
<g stroke-width="2.6" fill="none">
<path d="M205 486.4 H1713" stroke="#f80f40"/>
<path d="M205 544.4 H1713" stroke="#f80f40"/>
<path d="M205 588.5 H1713" stroke="#f80f40"/>
<path d="M205 652.4 H1713" stroke="#0a8a2e"/>
<path d="M205 683.1 H1713" stroke="#0a8a2e"/>
</g>
<path d="M205 613.1 H1713" stroke="#ffb300" stroke-width="1.7" fill="none"/><path d="M205 614.4 H1713" stroke="#ffb300" stroke-width="1.4" stroke-dasharray="2.2 1.2" fill="none"/>
<g font-family="'DejaVu Sans', 'Liberation Sans', sans-serif">
<text transform="translate(218.66 301.5) scale(1.3015 1)" font-size="15.2" font-weight="normal" fill="#131722" stroke="#131722" stroke-width="0.4">CRUDE OIL FUTURES (AUG 2023), 4h, NYMEX</text>
<text transform="translate(679.99 301.5) scale(1.2596 1)" font-size="15.2" font-weight="normal" fill="#131722" stroke="#131722" stroke-width="0.4">O</text>
<text transform="translate(695.29 301.5) scale(1.3110 1)" font-size="15.2" font-weight="normal" fill="#f7343c" stroke="#f7343c" stroke-width="0.4">69.53</text>
<text transform="translate(764.73 301.5) scale(1.4070 1)" font-size="15.2" font-weight="normal" fill="#131722" stroke="#131722" stroke-width="0.4">H</text>
<text transform="translate(779.69 301.5) scale(1.3141 1)" font-size="15.2" font-weight="normal" fill="#f7343c" stroke="#f7343c" stroke-width="0.4">69.65</text>
<text transform="translate(849.48 301.5) scale(1.2286 1)" font-size="15.2" font-weight="normal" fill="#131722" stroke="#131722" stroke-width="0.4">L</text>
<text transform="translate(861.10 301.5) scale(1.3011 1)" font-size="15.2" font-weight="normal" fill="#f7343c" stroke="#f7343c" stroke-width="0.4">69.42</text>
<text transform="translate(930.21 301.5) scale(1.2333 1)" font-size="15.2" font-weight="normal" fill="#131722" stroke="#131722" stroke-width="0.4">C</text>
<text transform="translate(943.90 301.5) scale(1.2964 1)" font-size="15.2" font-weight="normal" fill="#f7343c" stroke="#f7343c" stroke-width="0.4">69.43</text>
<text transform="translate(1012.28 301.5) scale(1.2012 1)" font-size="15.2" font-weight="normal" fill="#f7343c" stroke="#f7343c" stroke-width="0.4">−0.10 (−0.14%)</text>
<text transform="translate(219.57 326.4) scale(1.3244 1)" font-size="15.2" font-weight="normal" fill="#131722" stroke="#131722" stroke-width="0.4">Vol</text>
<text transform="translate(262.67 326.4) scale(1.2717 1)" font-size="15.2" font-weight="normal" fill="#f7343c" stroke="#f7343c" stroke-width="0.4">1.593K</text>
<text transform="translate(217.81 351.6) scale(1.3511 1)" font-size="15.2" font-weight="normal" fill="#131722" stroke="#131722" stroke-width="0.4">BB (20, close, 2, 0)</text>
<text transform="translate(425.97 351.6) scale(1.2716 1)" font-size="15.2" font-weight="normal" fill="#ff6d00" stroke="#ff6d00" stroke-width="0.4">71.16</text>
<text transform="translate(495.46 351.6) scale(1.2819 1)" font-size="15.2" font-weight="normal" fill="#2962ff" stroke="#2962ff" stroke-width="0.4">73.09</text>
<text transform="translate(564.10 351.6) scale(1.2986 1)" font-size="15.2" font-weight="normal" fill="#2962ff" stroke="#2962ff" stroke-width="0.4">69.22</text>
</g>
<path d="M205.0 319.0C209.2 319.0 224.1 321.0 230.3 319.0C236.5 317.0 239.2 310.1 242.3 307.0C245.4 303.9 245.6 302.5 249.0 300.3C252.3 298.1 257.8 294.5 262.3 293.6C266.7 292.8 271.8 293.6 275.6 295.0C279.4 296.3 281.8 297.4 284.9 301.6C288.0 305.9 290.5 311.9 294.3 320.3C298.0 328.7 303.1 344.7 307.6 352.3C312.0 359.8 316.9 360.3 320.9 365.6C324.9 370.9 328.0 378.8 331.6 384.3C335.1 389.7 336.9 395.7 342.2 398.1C347.6 400.6 358.7 400.8 363.5 398.9C368.4 397.0 368.4 392.5 371.5 386.9C374.7 381.4 378.2 371.8 382.2 365.6C386.2 359.4 392.0 354.9 395.5 349.6C399.1 344.3 400.9 338.2 403.5 333.6C406.2 329.0 408.4 321.3 411.5 322.2C414.6 323.1 418.2 331.3 422.2 339.0C426.2 346.6 431.7 359.8 435.5 368.3C439.3 376.7 442.2 381.6 444.8 389.6C447.5 397.6 449.0 405.6 451.5 416.2C453.9 426.9 456.8 440.2 459.5 453.5C462.1 466.9 465.3 485.5 467.5 496.2C469.7 506.8 471.0 511.7 472.8 517.5C474.6 523.3 475.9 527.9 478.1 530.8C480.4 533.7 483.5 537.0 486.1 534.8C488.8 532.6 491.8 521.6 494.1 517.5C496.4 513.4 498.4 513.0 500.0 510.0C501.6 506.9 502.5 502.6 504.0 499.0C505.5 495.3 507.3 491.0 509.0 488.0C510.7 485.0 512.2 482.8 514.0 481.0C515.8 479.1 518.0 478.5 520.0 477.0C522.0 475.5 524.2 474.0 526.0 472.0C527.8 470.0 529.5 467.0 531.0 465.0C532.5 463.0 533.3 461.5 535.0 460.0C536.6 458.5 539.0 457.2 541.0 456.0C543.0 454.8 545.1 452.9 547.0 452.7C548.8 452.4 550.1 453.1 552.0 454.5C553.8 455.9 556.0 458.4 558.0 461.0C560.0 463.6 562.1 466.9 564.0 470.0C565.8 473.1 567.0 477.8 569.0 479.5C571.0 481.1 573.3 479.6 576.0 479.8C578.6 479.9 582.5 479.5 585.0 480.5C587.5 481.5 589.3 485.1 591.0 485.8C592.6 486.4 593.3 485.8 595.0 484.5C596.6 483.2 599.1 479.3 600.9 478.0C602.8 476.6 604.1 477.1 605.9 476.5C607.8 475.9 610.1 475.2 611.9 474.5C613.8 473.7 615.3 472.5 616.9 472.0C618.6 471.4 620.1 471.3 621.9 471.2C623.8 471.1 626.1 472.0 627.9 471.5C629.8 470.9 631.0 469.0 632.9 468.0C634.8 466.9 638.3 465.6 639.4 465.2C640.6 464.7 638.6 464.7 640.0 465.3C641.4 465.9 645.3 466.7 648.0 468.7C650.7 470.7 653.3 474.3 656.0 477.3C658.7 480.2 661.3 484.0 664.0 486.6C666.6 489.2 669.3 490.5 672.0 492.7C674.6 494.9 677.3 496.7 680.0 499.9C682.6 503.1 685.7 507.7 688.0 511.9C690.2 516.1 691.5 521.0 693.3 525.2C695.1 529.4 696.4 534.3 698.6 537.2C700.8 540.1 703.7 541.3 706.6 542.5C709.5 543.8 713.3 544.9 715.9 544.7C718.6 544.5 720.8 542.9 722.6 541.2C724.4 539.5 725.3 537.2 726.6 534.5C727.9 531.9 729.0 528.6 730.6 525.2C732.1 521.9 734.1 517.5 735.9 514.6C737.7 511.7 739.5 509.9 741.2 507.9C743.0 505.9 744.4 504.0 746.6 502.6C748.8 501.1 751.9 499.9 754.6 499.1C757.2 498.4 759.9 498.6 762.6 498.0C765.2 497.5 767.9 496.9 770.6 495.9C773.2 494.9 776.1 493.5 778.5 491.9C781.0 490.4 783.0 487.7 785.2 486.6C787.4 485.5 789.4 485.5 791.9 485.3C794.3 485.0 797.2 485.0 799.9 485.3C802.5 485.5 805.2 485.9 807.9 486.6C810.5 487.3 813.6 488.1 815.8 489.3C818.1 490.5 819.0 492.8 821.2 493.8C823.4 494.8 826.5 494.7 829.2 495.4C831.8 496.1 834.5 497.1 837.2 498.0C839.8 499.0 842.9 500.5 845.2 501.2C847.4 502.0 848.7 503.5 850.5 502.6C852.3 501.7 854.0 498.4 855.8 495.9C857.6 493.5 859.4 490.6 861.1 487.9C862.9 485.3 864.5 482.6 866.5 479.9C868.5 477.3 870.9 475.3 873.1 471.9C875.3 468.6 877.3 463.7 879.8 459.9C882.2 456.2 885.1 452.4 887.8 449.3C890.4 446.2 893.1 443.7 895.8 441.3C898.4 438.9 901.5 436.3 903.8 434.6C906.0 433.0 907.3 431.7 909.1 431.4C910.9 431.2 912.2 432.2 914.4 433.3C916.6 434.4 919.8 436.7 922.4 437.8C925.1 438.9 927.3 440.0 930.4 440.0C933.6 440.0 937.3 438.0 941.3 437.8C945.4 437.7 950.2 438.9 954.6 439.2C959.1 439.4 964.0 438.9 968.0 439.4C972.0 440.0 975.1 441.0 978.6 442.6C982.2 444.3 985.7 446.6 989.3 449.3C992.8 452.0 996.8 455.8 999.9 458.6C1003.0 461.4 1005.7 464.2 1007.9 466.1C1010.1 467.9 1011.5 469.4 1013.3 469.8C1015.0 470.2 1016.4 470.6 1018.6 468.7C1020.8 466.9 1023.9 461.9 1026.6 458.6C1029.2 455.4 1031.9 452.2 1034.6 449.3C1037.2 446.4 1039.9 443.3 1042.6 441.3C1045.2 439.3 1047.4 438.1 1050.6 437.3C1053.7 436.5 1058.3 436.1 1061.2 436.5C1064.1 436.9 1065.6 437.8 1067.9 440.0C1070.1 442.1 1072.5 445.7 1074.5 449.3C1076.5 452.8 1077.6 456.8 1079.9 461.3C1082.1 465.7 1085.2 470.8 1087.9 475.9C1090.5 481.0 1093.2 485.9 1095.8 491.9C1098.5 497.9 1101.4 505.5 1103.8 511.9C1106.3 518.3 1108.5 527.0 1110.5 530.6C1112.5 534.1 1113.8 534.1 1115.8 533.2C1117.8 532.3 1120.0 529.2 1122.5 525.2C1124.9 521.2 1127.8 515.5 1130.5 509.2C1133.1 503.0 1135.8 494.1 1138.5 487.9C1141.1 481.7 1143.8 476.6 1146.5 471.9C1149.1 467.3 1151.8 462.6 1154.5 459.9C1157.1 457.3 1159.8 456.1 1162.5 456.0C1165.1 455.8 1167.8 457.4 1170.4 459.1C1173.1 460.9 1175.8 463.8 1178.4 466.6C1181.1 469.4 1184.2 472.6 1186.4 475.9C1188.7 479.3 1189.5 483.9 1191.8 486.6C1194.0 489.3 1197.1 490.6 1199.8 491.9C1202.4 493.3 1203.3 494.9 1207.7 494.6C1212.2 494.2 1221.7 490.9 1226.6 489.8C1231.6 488.7 1233.7 488.1 1237.3 487.9C1240.9 487.8 1244.8 487.9 1248.0 488.7C1251.1 489.6 1253.3 492.1 1256.0 493.3C1258.6 494.5 1260.8 495.5 1263.9 495.9C1267.1 496.4 1271.0 496.4 1274.6 495.9C1278.2 495.5 1282.1 495.0 1285.3 493.3C1288.4 491.5 1290.6 487.9 1293.3 485.3C1295.9 482.6 1298.6 480.4 1301.2 477.3C1303.9 474.2 1306.8 469.3 1309.2 466.6C1311.7 464.0 1313.7 462.0 1315.9 461.3C1318.1 460.6 1320.1 461.1 1322.6 462.6C1325.0 464.2 1327.9 467.1 1330.6 470.6C1333.2 474.2 1336.1 479.5 1338.5 483.9C1341.0 488.4 1343.0 492.8 1345.2 497.3C1347.4 501.7 1349.4 506.4 1351.9 510.6C1354.3 514.8 1357.2 519.0 1359.9 522.6C1362.5 526.1 1365.2 529.2 1367.9 531.9C1370.5 534.6 1373.6 535.9 1375.8 538.6C1378.1 541.2 1379.0 544.1 1381.2 547.9C1383.4 551.7 1386.5 556.9 1389.2 561.2C1391.8 565.6 1394.3 571.6 1397.2 574.0C1400.0 576.4 1404.0 576.7 1406.5 575.9C1408.9 575.1 1409.8 572.1 1411.8 569.2C1413.8 566.3 1416.0 561.4 1418.5 558.5C1420.9 555.7 1423.8 553.3 1426.5 551.9C1429.1 550.4 1431.8 550.2 1434.5 549.8C1437.1 549.3 1439.8 551.3 1442.5 549.2C1445.1 547.1 1447.8 540.3 1450.4 537.2C1453.1 534.1 1455.8 533.0 1458.4 530.6C1461.1 528.1 1463.8 525.5 1466.4 522.6C1469.1 519.7 1471.8 515.5 1474.4 513.3C1477.1 511.0 1479.8 510.1 1482.4 509.3C1485.1 508.5 1486.4 506.5 1490.4 508.5C1494.4 510.5 1503.0 518.0 1506.6 521.3C1510.2 524.5 1510.2 526.4 1511.9 527.9C1513.7 529.5 1515.0 530.2 1517.3 530.6C1519.5 530.9 1522.6 530.6 1525.3 530.1C1527.9 529.5 1530.8 528.6 1533.3 527.4C1535.7 526.1 1537.7 524.5 1539.9 522.6C1542.1 520.7 1544.1 517.7 1546.6 515.9C1549.0 514.2 1551.9 512.8 1554.6 511.9C1557.2 511.0 1560.1 511.1 1562.6 510.6C1565.0 510.1 1567.2 510.3 1569.2 508.7C1571.2 507.2 1572.6 503.0 1574.5 501.3C1576.5 499.6 1579.2 499.4 1581.2 498.6C1583.2 497.9 1585.6 497.1 1586.5 496.8" fill="none" stroke="#2962ff" stroke-width="2"/>
<path d="M205.0 406.9C207.4 407.8 215.0 411.8 219.6 412.2C224.3 412.7 229.4 407.1 233.0 409.6C236.5 412.0 237.9 419.6 241.0 426.9C244.1 434.2 248.1 445.1 251.6 453.5C255.2 462.0 258.7 470.4 262.3 477.5C265.8 484.6 269.4 491.1 272.9 496.2C276.5 501.3 280.5 505.7 283.6 508.2C286.7 510.6 288.5 510.6 291.6 510.8C294.7 511.1 299.1 510.7 302.3 509.5C305.4 508.3 306.7 505.2 310.2 503.6C313.8 502.1 319.6 502.1 323.6 500.2C327.6 498.3 331.6 494.2 334.2 492.2C336.9 490.2 336.5 488.9 339.6 488.2C342.7 487.5 348.9 489.1 352.9 488.2C356.9 487.3 360.9 482.0 363.5 482.9C366.2 483.7 366.7 486.9 368.9 493.5C371.1 500.2 374.2 513.5 376.9 522.8C379.5 532.2 382.0 538.9 384.9 549.5C387.8 560.1 391.8 575.9 394.3 586.6C396.8 597.2 397.9 603.9 399.6 613.2C401.4 622.5 403.2 633.6 405.0 642.5C406.7 651.4 408.1 658.5 410.3 666.5C412.5 674.5 415.6 683.4 418.3 690.5C421.0 697.6 423.6 703.6 426.3 709.1C428.9 714.7 431.6 719.6 434.3 723.8C436.9 728.0 439.7 732.0 442.3 734.4C444.8 736.9 447.3 738.9 449.7 738.4C452.2 738.0 454.6 735.3 456.9 731.8C459.2 728.2 461.4 722.5 463.6 717.1C465.8 711.8 468.2 704.2 470.2 699.8C472.2 695.4 473.6 692.7 475.6 690.5C477.6 688.3 480.2 686.9 482.2 686.5C484.2 686.0 485.6 686.5 487.6 687.8C489.6 689.1 491.6 692.0 494.2 694.5C496.9 696.9 500.7 701.7 503.5 702.5C506.4 703.2 508.9 701.2 511.5 699.0C514.2 696.8 516.4 693.2 519.5 689.1C522.6 685.1 527.1 678.7 530.2 674.5C533.3 670.3 535.5 668.7 538.2 663.8C540.8 659.0 544.0 651.0 546.2 645.2C548.4 639.4 549.7 635.0 551.5 629.2C553.3 623.4 555.1 616.8 556.8 610.6C558.6 604.3 560.2 597.9 562.2 591.9C564.2 585.9 566.2 579.5 568.8 574.6C571.5 569.7 575.3 566.4 578.1 562.6C581.0 558.8 583.9 554.9 586.1 551.9C588.4 549.0 589.7 545.0 591.5 544.7C593.2 544.5 594.6 548.1 596.8 550.6C599.0 553.1 601.7 555.5 604.8 559.9C607.9 564.4 611.9 572.4 615.4 577.2C619.0 582.1 623.0 585.0 626.1 589.2C629.2 593.5 631.4 598.6 634.1 602.6C636.8 606.6 639.4 609.7 642.1 613.2C644.8 616.8 647.4 621.2 650.1 623.9C652.7 626.5 654.9 628.0 658.1 629.2C661.3 630.4 665.7 631.2 669.3 631.3C673.0 631.3 676.9 630.2 680.0 629.7C683.1 629.1 685.7 629.2 688.0 627.8C690.2 626.4 691.7 623.6 693.3 621.1C694.8 618.7 695.5 614.5 697.3 613.1C699.1 611.8 701.1 612.9 703.9 613.1C706.8 613.4 711.0 614.1 714.6 614.5C718.2 614.8 722.6 613.9 725.3 615.3C727.9 616.6 728.6 620.3 730.6 622.5C732.6 624.6 734.6 627.9 737.2 628.3C739.9 628.8 743.7 627.2 746.6 625.1C749.5 623.0 751.9 618.5 754.6 615.8C757.2 613.1 759.9 611.0 762.6 609.1C765.2 607.3 767.9 605.7 770.6 604.6C773.2 603.5 775.9 602.8 778.5 602.5C781.2 602.1 783.9 603.0 786.5 602.5C789.2 602.0 791.9 600.3 794.5 599.3C797.2 598.3 799.9 597.6 802.5 596.6C805.2 595.6 808.3 594.6 810.5 593.2C812.7 591.7 814.1 590.5 815.8 587.8C817.6 585.2 819.4 579.8 821.2 577.2C823.0 574.5 824.3 573.4 826.5 571.8C828.7 570.3 831.8 568.7 834.5 567.9C837.2 567.0 839.8 566.7 842.5 566.5C845.2 566.3 847.8 565.6 850.5 566.5C853.1 567.4 855.8 570.2 858.5 571.8C861.1 573.5 863.8 575.4 866.5 576.4C869.1 577.4 871.8 577.4 874.5 578.0C877.1 578.6 879.8 579.3 882.5 579.8C885.1 580.4 887.8 580.7 890.4 581.2C893.1 581.6 896.2 583.0 898.4 582.5C900.7 582.1 902.0 580.3 903.8 578.5C905.5 576.7 907.3 574.1 909.1 571.8C910.9 569.6 912.6 567.6 914.4 565.2C916.2 562.7 917.8 559.1 919.8 557.2C921.8 555.3 924.4 554.7 926.4 554.0C928.4 553.3 927.9 553.1 931.7 553.2C935.6 553.3 944.6 554.8 949.3 554.5C954.0 554.3 956.0 552.2 960.0 551.9C964.0 551.5 968.8 551.7 973.3 552.4C977.7 553.1 982.6 555.9 986.6 555.9C990.6 555.9 993.7 553.0 997.3 552.4C1000.8 551.8 1005.3 551.6 1007.9 552.4C1010.6 553.2 1011.5 553.3 1013.3 557.2C1015.0 561.1 1016.4 568.7 1018.6 575.8C1020.8 583.0 1023.9 592.7 1026.6 599.8C1029.2 606.9 1031.9 611.8 1034.6 618.5C1037.2 625.1 1039.9 633.1 1042.6 639.8C1045.2 646.4 1047.9 651.8 1050.6 658.4C1053.2 665.1 1056.1 674.0 1058.5 679.8C1061.0 685.5 1062.5 688.8 1065.2 693.1C1067.9 697.3 1071.7 701.9 1074.6 705.3C1077.5 708.6 1079.7 712.5 1082.6 713.3C1085.5 714.1 1089.0 711.6 1091.9 710.1C1094.8 708.5 1097.5 706.5 1099.9 703.9C1102.4 701.4 1104.6 697.4 1106.6 694.6C1108.6 691.8 1110.1 688.7 1111.9 687.4C1113.7 686.2 1115.0 686.4 1117.2 687.1C1119.5 687.9 1122.6 690.3 1125.2 691.9C1127.9 693.5 1130.1 695.2 1133.2 696.7C1136.3 698.3 1141.2 700.6 1143.9 701.3C1146.5 701.9 1147.9 701.2 1149.2 700.7C1150.5 700.3 1150.0 700.6 1151.8 698.4C1153.6 696.2 1157.1 692.2 1159.8 687.7C1162.5 683.3 1165.1 678.0 1167.8 671.8C1170.4 665.5 1173.3 657.6 1175.8 650.4C1178.2 643.3 1180.4 635.8 1182.4 629.1C1184.4 622.5 1186.2 616.3 1187.8 610.5C1189.3 604.7 1190.0 598.5 1191.8 594.5C1193.5 590.5 1196.0 589.6 1198.4 586.5C1200.9 583.4 1204.0 578.7 1206.4 575.8C1208.9 573.0 1209.7 570.8 1213.1 569.2C1216.4 567.5 1222.6 566.7 1226.6 566.0C1230.7 565.3 1233.7 565.2 1237.3 565.2C1240.9 565.2 1244.8 565.1 1248.0 566.0C1251.1 566.9 1252.8 568.9 1256.0 570.5C1259.1 572.2 1263.1 574.5 1266.6 575.9C1270.2 577.2 1273.7 577.0 1277.3 578.5C1280.8 580.1 1284.8 581.4 1287.9 585.2C1291.0 589.0 1293.3 594.5 1295.9 601.2C1298.6 607.8 1301.2 617.4 1303.9 625.2C1306.6 632.9 1309.2 639.4 1311.9 647.8C1314.6 656.2 1317.7 667.6 1319.9 675.8C1322.1 684.0 1323.2 691.5 1325.2 697.1C1327.2 702.6 1329.7 706.3 1331.9 709.1C1334.1 711.8 1336.1 713.6 1338.5 713.6C1341.0 713.6 1343.9 710.4 1346.5 709.1C1349.2 707.7 1351.4 706.8 1354.5 705.6C1357.6 704.4 1361.6 703.0 1365.2 701.9C1368.7 700.8 1372.3 700.5 1375.8 699.2C1379.4 698.0 1383.0 695.6 1386.5 694.4C1390.1 693.3 1393.6 692.7 1397.2 692.3C1400.7 691.8 1405.2 691.4 1407.8 691.8C1410.5 692.1 1410.9 694.6 1413.1 694.4C1415.4 694.2 1418.5 692.4 1421.1 690.4C1423.8 688.4 1426.5 686.2 1429.1 682.4C1431.8 678.7 1434.7 672.0 1437.1 667.8C1439.6 663.6 1441.8 659.3 1443.8 657.1C1445.8 654.9 1447.1 654.8 1449.1 654.5C1451.1 654.1 1453.3 655.2 1455.8 655.0C1458.2 654.8 1461.1 653.7 1463.8 653.1C1466.4 652.5 1469.1 651.5 1471.8 651.3C1474.4 651.0 1477.1 652.4 1479.8 651.8C1482.4 651.2 1485.5 650.0 1487.7 647.8C1490.0 645.6 1491.5 641.8 1493.1 638.5C1494.6 635.1 1495.3 632.5 1497.1 627.8C1498.9 623.2 1501.7 615.6 1503.9 610.5C1506.2 605.4 1508.4 600.3 1510.6 597.2C1512.8 594.1 1514.8 593.4 1517.3 591.9C1519.7 590.3 1522.1 589.0 1525.3 587.9C1528.4 586.8 1532.4 585.9 1535.9 585.2C1539.5 584.5 1543.0 584.1 1546.6 583.9C1550.1 583.7 1554.1 583.7 1557.2 583.9C1560.3 584.1 1563.2 584.1 1565.2 585.2C1567.2 586.3 1567.9 587.6 1569.2 590.5C1570.6 593.4 1571.9 599.2 1573.2 602.5C1574.5 605.9 1575.9 608.3 1577.2 610.5C1578.5 612.7 1579.7 613.6 1581.2 615.8C1582.7 618.1 1585.2 622.5 1586.0 623.8" fill="none" stroke="#2962ff" stroke-width="2"/>
<path d="M205.0 363.7C209.7 363.8 226.1 362.8 233.0 364.3C239.9 365.7 241.0 368.5 246.3 372.3C251.6 376.0 259.6 382.7 264.9 386.9C270.3 391.1 273.8 393.1 278.3 397.6C282.7 402.0 287.2 408.7 291.6 413.6C296.0 418.5 300.0 423.6 304.9 426.9C309.8 430.2 316.0 431.3 320.9 433.6C325.8 435.8 329.8 438.4 334.2 440.2C338.7 442.0 343.1 444.2 347.6 444.2C352.0 444.2 356.9 440.2 360.9 440.2C364.9 440.2 367.5 441.6 371.5 444.2C375.5 446.9 380.4 451.5 384.9 456.2C389.3 460.9 393.7 465.1 398.2 472.2C402.6 479.3 407.1 489.5 411.5 498.8C416.0 508.2 420.8 520.2 424.8 528.2C428.8 536.2 430.4 536.6 435.5 546.8C440.6 557.0 450.5 579.9 455.6 589.2C460.7 598.5 463.1 599.4 466.2 602.6C469.4 605.8 471.6 607.1 474.2 608.4C476.9 609.8 479.6 610.4 482.2 610.6C484.9 610.7 487.6 610.1 490.2 609.2C492.9 608.3 495.1 607.9 498.2 605.2C501.3 602.6 505.3 597.2 508.9 593.2C512.4 589.2 516.0 585.2 519.5 581.2C523.1 577.2 526.6 573.3 530.2 569.3C533.7 565.3 537.3 561.5 540.8 557.3C544.4 553.0 548.0 548.2 551.5 543.9C555.1 539.7 558.6 535.3 562.2 532.0C565.7 528.6 569.3 526.4 572.8 524.0C576.4 521.5 580.4 518.8 583.5 517.3C586.6 515.8 588.8 515.4 591.5 515.2C594.1 514.9 596.8 515.2 599.5 516.0C602.1 516.8 604.8 518.4 607.5 520.0C610.1 521.5 612.3 523.6 615.4 525.3C618.6 527.0 622.6 528.1 626.1 530.1C629.7 532.1 633.7 534.8 636.8 537.3C639.9 539.8 642.1 542.8 644.8 545.3C647.4 547.7 650.1 549.8 652.7 551.9C655.4 554.0 657.5 556.0 660.7 557.8C663.9 559.6 668.8 561.2 672.0 562.5C675.2 563.8 677.3 564.4 680.0 565.7C682.6 567.1 685.3 569.1 688.0 570.5C690.6 572.0 693.3 573.4 696.0 574.5C698.6 575.6 701.3 576.4 703.9 577.2C706.6 577.9 709.3 578.7 711.9 579.0C714.6 579.4 717.3 579.5 719.9 579.0C722.6 578.6 725.3 577.6 727.9 576.4C730.6 575.2 733.3 573.7 735.9 571.8C738.6 570.0 741.2 567.3 743.9 565.2C746.6 563.1 749.2 561.2 751.9 559.3C754.6 557.5 757.2 555.5 759.9 554.0C762.6 552.5 765.2 551.6 767.9 550.5C770.6 549.5 773.2 548.8 775.9 547.9C778.5 546.9 781.2 545.6 783.9 544.7C786.5 543.8 789.2 543.0 791.9 542.5C794.5 542.1 797.2 542.1 799.9 541.7C802.5 541.4 805.2 541.2 807.9 540.7C810.5 540.1 813.2 539.6 815.8 538.5C818.5 537.5 821.2 535.7 823.8 534.5C826.5 533.4 829.2 532.3 831.8 531.9C834.5 531.4 837.2 531.7 839.8 531.9C842.5 532.1 845.2 533.0 847.8 533.2C850.5 533.4 853.1 533.7 855.8 533.2C858.5 532.8 861.1 531.9 863.8 530.6C866.5 529.2 869.1 527.0 871.8 525.2C874.5 523.4 877.1 521.4 879.8 519.9C882.5 518.3 885.1 517.0 887.8 515.9C890.4 514.8 893.1 514.6 895.8 513.2C898.4 511.9 901.1 509.7 903.8 507.9C906.4 506.1 909.1 504.4 911.8 502.6C914.4 500.8 917.1 498.4 919.8 497.2C922.4 496.1 925.1 496.0 927.7 495.9C930.4 495.8 933.5 496.4 935.7 496.7C938.0 497.0 938.2 497.9 941.3 497.8C944.5 497.6 950.2 496.4 954.6 495.9C959.1 495.4 964.0 494.4 968.0 494.6C972.0 494.8 975.1 496.1 978.6 497.2C982.2 498.4 985.7 499.9 989.3 501.2C992.8 502.6 996.8 503.7 999.9 505.2C1003.0 506.8 1005.3 508.3 1007.9 510.6C1010.6 512.8 1012.8 515.7 1015.9 518.6C1019.0 521.4 1023.0 525.0 1026.6 527.9C1030.1 530.8 1033.7 532.6 1037.2 535.9C1040.8 539.2 1044.3 543.7 1047.9 547.9C1051.4 552.1 1055.0 556.8 1058.5 561.2C1062.1 565.6 1065.6 570.1 1069.2 574.5C1072.8 579.0 1076.3 584.1 1079.9 587.8C1083.4 591.6 1087.0 594.3 1090.5 597.2C1094.1 600.0 1098.1 603.2 1101.2 605.2C1104.3 607.2 1106.5 608.3 1109.2 609.1C1111.8 609.9 1114.5 610.3 1117.2 609.9C1119.8 609.6 1122.5 608.7 1125.2 607.3C1127.8 605.8 1130.0 604.0 1133.1 601.2C1136.3 598.4 1140.3 594.5 1143.8 590.5C1147.4 586.5 1150.9 581.4 1154.5 577.2C1158.0 573.0 1161.6 569.0 1165.1 565.2C1168.7 561.4 1172.2 557.6 1175.8 554.5C1179.3 551.4 1182.9 549.0 1186.4 546.5C1190.0 544.1 1193.5 542.1 1197.1 539.9C1200.6 537.7 1202.8 535.3 1207.7 533.2C1212.7 531.1 1221.7 528.3 1226.6 527.1C1231.6 525.9 1233.7 526.0 1237.3 526.0C1240.9 526.0 1244.8 526.1 1248.0 527.1C1251.1 528.1 1252.8 530.6 1256.0 531.9C1259.1 533.2 1263.1 534.3 1266.6 535.1C1270.2 535.9 1273.7 536.0 1277.3 536.7C1280.8 537.4 1284.8 538.2 1287.9 539.4C1291.0 540.6 1293.3 542.0 1295.9 543.9C1298.6 545.8 1301.2 547.9 1303.9 550.6C1306.6 553.2 1309.2 556.4 1311.9 559.9C1314.6 563.3 1317.2 567.1 1319.9 571.3C1322.6 575.6 1325.2 581.3 1327.9 585.2C1330.6 589.1 1333.2 591.8 1335.9 594.5C1338.5 597.3 1341.2 599.7 1343.9 601.7C1346.5 603.7 1349.2 604.7 1351.9 606.5C1354.5 608.3 1357.2 610.6 1359.9 612.4C1362.5 614.1 1365.2 616.1 1367.9 617.2C1370.5 618.2 1373.2 617.4 1375.8 618.5C1378.5 619.6 1381.2 621.8 1383.8 623.8C1386.5 625.8 1389.2 628.8 1391.8 630.5C1394.5 632.1 1397.2 633.2 1399.8 633.7C1402.5 634.1 1405.2 634.1 1407.8 633.1C1410.5 632.2 1412.7 630.3 1415.8 627.8C1418.9 625.4 1422.9 622.0 1426.5 618.5C1430.0 614.9 1433.6 610.1 1437.1 606.5C1440.7 603.0 1444.2 599.6 1447.8 597.2C1451.3 594.7 1454.9 593.8 1458.4 591.8C1462.0 589.9 1465.5 587.5 1469.1 585.7C1472.6 583.9 1476.2 582.8 1479.8 581.2C1483.3 579.5 1486.4 578.5 1490.4 575.9C1494.4 573.2 1500.4 567.7 1503.9 565.2C1507.5 562.8 1509.3 562.3 1511.9 561.2C1514.6 560.1 1517.3 559.3 1519.9 558.6C1522.6 557.8 1525.3 557.5 1527.9 556.7C1530.6 555.9 1533.3 555.1 1535.9 554.0C1538.6 553.0 1541.2 551.6 1543.9 550.6C1546.6 549.5 1549.2 548.6 1551.9 547.9C1554.6 547.2 1557.5 546.8 1559.9 546.6C1562.3 546.4 1564.3 545.9 1566.6 546.6C1568.8 547.2 1571.0 549.0 1573.2 550.6C1575.4 552.1 1577.7 554.3 1579.9 555.9C1582.0 557.5 1585.0 559.2 1586.0 559.9" fill="none" stroke="#ff6d00" stroke-width="2"/>
<path d="M1212 749 L1713 491.5" stroke="#1547d1" stroke-width="3.2" stroke-linecap="round" fill="none"/>
<path d="M222.5 377.6V389.6M228.0 366.9V384.3M244.2 382.9V430.1M255.0 465.5V472.2M260.4 461.0V470.9M271.3 454.3V478.9M282.1 456.7V474.9M287.5 454.9V462.9M292.9 436.2V456.2M309.2 392.2V465.5M336.2 417.6V461.5M347.1 424.2V443.4M385.0 557.3V560.7M417.4 626.0V777.1M422.9 626.5V649.2M439.1 612.4V683.8M449.9 637.7V653.2M455.3 629.2V645.7M460.8 610.6V633.2M466.2 557.3V615.1M487.8 547.9V573.8M493.2 517.3V553.3M498.7 492.0V521.3M504.1 499.2V524.8M536.6 487.5V561.3M574.5 512.5V534.6M585.3 495.5V514.1M606.9 554.6V578.0M623.2 571.9V596.4M628.6 547.9V577.2M639.4 599.9V605.2M650.2 603.1V621.7M655.7 591.9V611.9M661.1 572.7V597.2M666.5 550.5V584.4M671.9 557.2V571.8M677.3 547.1V562.0M693.6 550.5V578.0M720.6 569.2V598.5M726.0 543.9V573.2M731.5 495.1V566.5M753.1 507.9V521.2M769.4 531.1V549.2M780.2 516.4V539.1M785.6 507.4V527.9M801.8 535.9V561.2M818.1 541.2V578.0M823.5 530.0V556.7M828.9 519.4V551.9M834.3 524.7V535.9M839.7 516.4V532.4M856.0 485.8V536.4M861.4 479.1V505.2M866.8 476.7V511.9M872.2 474.6V481.3M883.0 457.3V485.8M899.3 455.2V482.6M931.8 530.0V542.5M942.6 530.6V546.0M948.0 516.4V538.5M953.4 497.2V522.6M964.3 499.1V517.2M969.7 483.1V494.6M991.3 498.6V521.2M996.7 496.4V502.6M1002.2 487.1V505.2M1029.2 608.3V619.0M1040.1 611.0V622.5M1050.9 620.6V687.7M1067.1 645.7V672.3M1088.8 560.4V656.6M1099.6 584.4V594.0M1105.0 568.7V587.8M1110.4 545.2V582.5M1115.9 525.2V562.5M1126.7 526.6V543.9M1142.9 471.4V513.2M1170.0 529.2V541.2M1186.2 519.9V565.7M1197.1 530.6V545.2M1207.9 523.1V559.9M1213.3 504.4V526.6M1218.7 490.6V519.1M1235.0 510.6V522.6M1240.4 502.1V526.0M1272.9 539.4V571.3M1327.0 672.6V682.4M1337.8 653.9V677.1M1343.2 601.2V658.5M1364.9 601.2V619.3M1370.3 585.2V610.5M1397.4 634.5V657.1M1402.8 621.2V649.1M1408.2 606.5V633.1M1413.6 560.7V619.8M1429.9 567.9V578.5M1440.7 549.8V590.5M1446.1 543.1V575.9M1451.5 531.9V550.6M1462.3 556.4V570.5M1467.8 536.7V563.9M1473.2 524.4V546.6M1484.0 547.9V553.2M1494.8 556.4V565.8M1500.2 519.9V569.2M1511.1 570.0V604.7M1516.5 552.4V578.5M1521.9 550.6V571.1M1527.3 542.6V553.2M1538.1 530.6V569.8M1543.6 509.8V543.9M1554.4 515.9V519.4M1581.5 610.5V626.0" stroke="#0a9981" stroke-width="1.5" fill="none"/>
<path d="M206.3 340.3V384.3M211.7 370.9V404.2M217.1 382.9V391.7M233.4 364.3V386.9M238.8 378.9V429.0M249.6 426.4V479.4M265.9 453.5V470.9M276.7 445.0V481.5M298.3 446.1V485.5M303.8 439.7V466.9M314.6 391.7V401.0M320.0 398.9V417.6M325.4 413.6V419.4M330.8 414.4V450.9M341.6 418.9V464.7M352.5 426.4V432.2M357.9 426.4V437.0M363.3 417.6V447.7M368.7 432.0V504.0M374.1 502.1V558.6M379.5 550.6V562.6M390.4 555.9V561.3M395.8 552.5V613.2M401.2 602.6V643.9M406.6 629.7V669.7M412.0 634.5V667.8M428.3 622.5V639.9M433.7 635.9V669.7M444.5 631.9V657.2M471.6 552.5V577.8M477.0 549.8V566.6M482.4 547.9V573.8M509.5 499.2V520.0M514.9 511.4V525.3M520.3 509.3V530.1M525.7 517.3V539.1M531.1 514.6V539.9M542.0 488.0V496.5M547.4 490.1V501.3M552.8 498.7V506.6M558.2 495.5V526.6M563.6 481.3V530.6M569.0 501.3V543.1M579.9 504.0V514.6M590.7 491.2V516.0M596.1 501.8V563.9M601.5 546.6V580.7M612.3 555.9V577.2M617.8 575.9V592.4M634.0 547.1V605.2M644.8 597.2V617.2M682.7 550.5V565.7M688.1 552.4V585.2M699.0 553.2V586.5M704.4 574.5V586.5M709.8 578.5V587.8M715.2 570.5V596.4M736.9 501.8V514.6M742.3 509.2V517.2M747.7 509.8V521.2M758.5 505.2V541.2M763.9 519.4V547.9M774.8 529.2V539.9M791.0 485.3V522.6M796.4 518.6V562.0M807.3 538.0V563.9M812.7 558.5V571.8M845.2 521.2V531.1M850.6 522.6V542.5M877.6 474.6V482.6M888.5 453.8V475.9M893.9 446.6V496.4M904.7 459.9V468.7M910.1 456.5V467.9M915.5 463.9V495.1M920.9 484.7V532.7M926.4 507.9V563.9M937.2 530.6V543.9M958.8 498.6V522.6M975.1 479.9V495.1M980.5 486.6V514.6M985.9 505.2V528.4M1007.6 489.3V527.4M1013.0 517.2V561.2M1018.4 530.6V599.8M1023.8 578.5V623.8M1034.6 603.8V614.5M1045.5 603.8V649.1M1056.3 609.9V646.4M1061.7 641.1V671.2M1072.5 635.8V649.1M1078.0 629.7V662.4M1083.4 639.8V671.2M1094.2 575.3V593.2M1121.3 525.2V558.5M1132.1 412.8V521.2M1137.5 502.6V517.2M1148.3 470.6V507.9M1153.8 495.4V529.2M1159.2 506.6V536.4M1164.6 528.7V542.5M1175.4 536.4V587.8M1180.8 556.7V581.2M1191.6 530.0V547.1M1202.5 538.5V554.5M1224.1 503.9V517.2M1229.5 510.6V521.8M1245.8 487.9V529.8M1251.2 518.6V622.5M1256.6 539.9V563.9M1262.0 554.5V568.7M1267.4 562.5V569.2M1278.3 538.6V566.0M1283.7 534.6V581.2M1289.1 570.5V585.7M1294.5 581.2V614.5M1299.9 609.2V618.5M1305.3 605.2V666.4M1310.8 629.9V667.8M1316.2 651.3V693.1M1321.6 673.1V694.4M1332.4 671.8V682.4M1348.7 598.5V622.5M1354.1 599.8V621.2M1359.5 613.2V621.2M1375.7 577.2V603.8M1381.1 586.5V636.3M1386.6 625.2V653.1M1392.0 631.0V652.3M1419.0 566.5V574.0M1424.4 567.9V577.2M1435.3 563.9V590.5M1456.9 541.2V566.0M1478.6 531.4V565.2M1489.4 547.9V565.2M1505.7 527.9V599.3M1532.7 541.2V565.2M1549.0 511.9V522.1M1559.8 517.3V529.3M1565.2 511.9V548.7M1570.6 543.9V593.2M1576.0 567.4V631.3M1586.9 608.4V615.8" stroke="#f7343c" stroke-width="1.5" fill="none"/>
<path d="M220.4 378.9h4.2V385.6h-4.2ZM225.9 367.7h4.2V383.7h-4.2ZM242.1 426.9h4.2V429.6h-4.2ZM252.9 465.5h4.2V471.7h-4.2ZM258.3 461.5h4.2V470.9h-4.2ZM269.2 454.9h4.2V470.1h-4.2ZM280.0 457.5h4.2V462.9h-4.2ZM285.4 455.7h4.2V457.5h-4.2ZM290.8 447.7h4.2V455.7h-4.2ZM307.1 395.7h4.2V465.5h-4.2ZM334.1 428.2h4.2V447.7h-4.2ZM345.0 427.7h4.2V442.9h-4.2ZM382.9 558.5h4.2V560.1h-4.2ZM415.3 634.5h4.2V664.4h-4.2ZM420.8 627.1h4.2V637.2h-4.2ZM437.0 632.4h4.2V659.8h-4.2ZM447.8 640.7h4.2V649.2h-4.2ZM453.2 631.9h4.2V645.2h-4.2ZM458.7 615.9h4.2V632.4h-4.2ZM464.1 558.1h4.2V614.5h-4.2ZM485.7 550.6h4.2V573.8h-4.2ZM491.1 520.0h4.2V551.4h-4.2ZM496.6 517.3h4.2V520.5h-4.2ZM502.0 501.3h4.2V517.3h-4.2ZM534.5 490.7h4.2V529.3h-4.2ZM572.4 513.3h4.2V533.3h-4.2ZM583.2 496.5h4.2V513.3h-4.2ZM604.8 557.3h4.2V573.8h-4.2ZM621.1 573.3h4.2V582.6h-4.2ZM626.5 549.3h4.2V573.8h-4.2ZM637.3 601.2h4.2V603.1h-4.2ZM648.1 603.9h4.2V614.5h-4.2ZM653.6 593.2h4.2V605.2h-4.2ZM659.0 582.6h4.2V595.1h-4.2ZM664.4 565.2h4.2V583.8h-4.2ZM669.8 561.2h4.2V566.5h-4.2ZM675.2 547.9h4.2V561.2h-4.2ZM691.5 559.3h4.2V574.5h-4.2ZM718.5 569.7h4.2V595.8h-4.2ZM723.9 552.4h4.2V571.8h-4.2ZM729.4 501.2h4.2V553.2h-4.2ZM751.0 516.7h4.2V520.4h-4.2ZM767.3 534.5h4.2V546.5h-4.2ZM778.1 518.6h4.2V538.5h-4.2ZM783.5 508.7h4.2V521.2h-4.2ZM799.7 538.5h4.2V560.7h-4.2ZM816.0 549.2h4.2V568.4h-4.2ZM821.4 543.9h4.2V550.5h-4.2ZM826.8 523.4h4.2V543.9h-4.2ZM832.2 525.8h4.2V531.9h-4.2ZM837.6 521.8h4.2V531.9h-4.2ZM853.9 486.1h4.2V533.2h-4.2ZM859.3 485.3h4.2V491.9h-4.2ZM864.7 477.3h4.2V490.6h-4.2ZM870.1 476.7h4.2V479.4h-4.2ZM880.9 459.1h4.2V477.3h-4.2ZM897.2 462.6h4.2V476.7h-4.2ZM929.7 535.9h4.2V541.7h-4.2ZM940.5 534.5h4.2V545.2h-4.2ZM945.9 517.2h4.2V535.9h-4.2ZM951.3 506.6h4.2V518.6h-4.2ZM962.2 499.9h4.2V513.2h-4.2ZM967.6 485.3h4.2V493.8h-4.2ZM989.2 501.2h4.2V517.2h-4.2ZM994.6 497.2h4.2V501.8h-4.2ZM1000.1 489.8h4.2V499.9h-4.2ZM1027.1 609.1h4.2V617.1h-4.2ZM1038.0 611.8h4.2V615.3h-4.2ZM1048.8 637.9h4.2V646.4h-4.2ZM1065.0 646.4h4.2V670.4h-4.2ZM1086.7 575.8h4.2V655.2h-4.2ZM1097.5 586.0h4.2V589.7h-4.2ZM1102.9 569.7h4.2V586.5h-4.2ZM1108.3 561.7h4.2V570.5h-4.2ZM1113.8 531.9h4.2V561.7h-4.2ZM1124.6 534.5h4.2V538.0h-4.2ZM1140.8 498.6h4.2V511.9h-4.2ZM1167.9 538.5h4.2V540.4h-4.2ZM1184.1 532.7h4.2V564.7h-4.2ZM1195.0 537.2h4.2V543.9h-4.2ZM1205.8 524.4h4.2V553.2h-4.2ZM1211.2 511.9h4.2V524.7h-4.2ZM1216.6 505.3h4.2V513.3h-4.2ZM1232.9 515.9h4.2V521.2h-4.2ZM1238.3 504.7h4.2V515.4h-4.2ZM1270.8 542.6h4.2V569.2h-4.2ZM1324.9 675.2h4.2V680.6h-4.2ZM1335.7 657.9h4.2V676.3h-4.2ZM1341.1 601.7h4.2V657.9h-4.2ZM1362.8 602.5h4.2V618.5h-4.2ZM1368.2 588.4h4.2V605.2h-4.2ZM1395.3 636.3h4.2V651.8h-4.2ZM1400.7 623.0h4.2V637.1h-4.2ZM1406.1 613.2h4.2V624.6h-4.2ZM1411.5 565.2h4.2V614.5h-4.2ZM1427.8 569.2h4.2V574.0h-4.2ZM1438.6 574.0h4.2V589.2h-4.2ZM1444.0 545.2h4.2V574.5h-4.2ZM1449.4 542.6h4.2V546.6h-4.2ZM1460.2 559.9h4.2V563.9h-4.2ZM1465.7 539.9h4.2V561.2h-4.2ZM1471.1 533.2h4.2V540.4h-4.2ZM1481.9 549.2h4.2V552.7h-4.2ZM1492.7 559.4h4.2V564.7h-4.2ZM1498.1 538.6h4.2V564.7h-4.2ZM1509.0 571.4h4.2V586.0h-4.2ZM1514.4 568.7h4.2V572.4h-4.2ZM1519.8 551.9h4.2V569.8h-4.2ZM1525.2 548.7h4.2V551.9h-4.2ZM1536.0 533.3h4.2V559.4h-4.2ZM1541.5 515.9h4.2V535.4h-4.2ZM1552.3 517.3h4.2V519.1h-4.2ZM1579.4 611.8h4.2V625.2h-4.2Z" fill="#0a9981"/>
<path d="M204.2 340.3h4.2V381.6h-4.2ZM209.6 380.3h4.2V386.9h-4.2ZM215.0 386.1h4.2V388.3h-4.2ZM231.3 368.3h4.2V382.9h-4.2ZM236.7 381.6h4.2V426.9h-4.2ZM247.5 426.4h4.2V470.9h-4.2ZM263.8 462.9h4.2V469.5h-4.2ZM274.6 453.5h4.2V460.2h-4.2ZM296.2 446.9h4.2V461.0h-4.2ZM301.7 460.2h4.2V466.3h-4.2ZM312.5 397.0h4.2V400.2h-4.2ZM317.9 399.7h4.2V417.0h-4.2ZM323.3 414.4h4.2V418.9h-4.2ZM328.7 414.9h4.2V446.9h-4.2ZM339.5 428.2h4.2V442.9h-4.2ZM350.4 429.6h4.2V431.7h-4.2ZM355.8 431.4h4.2V436.2h-4.2ZM361.2 437.6h4.2V444.2h-4.2ZM366.6 433.4h4.2V502.6h-4.2ZM372.0 502.6h4.2V553.3h-4.2ZM377.4 551.9h4.2V561.3h-4.2ZM388.3 558.6h4.2V560.5h-4.2ZM393.7 561.3h4.2V603.9h-4.2ZM399.1 603.1h4.2V640.7h-4.2ZM404.5 630.5h4.2V649.2h-4.2ZM409.9 647.9h4.2V666.5h-4.2ZM426.2 627.9h4.2V637.2h-4.2ZM431.6 636.7h4.2V659.0h-4.2ZM442.4 632.4h4.2V649.2h-4.2ZM469.5 559.4h4.2V563.9h-4.2ZM474.9 562.6h4.2V565.8h-4.2ZM480.3 562.1h4.2V573.8h-4.2ZM507.4 501.3h4.2V519.4h-4.2ZM512.8 518.6h4.2V523.4h-4.2ZM518.2 516.0h4.2V529.3h-4.2ZM523.6 525.8h4.2V528.5h-4.2ZM529.0 527.2h4.2V529.3h-4.2ZM539.9 491.1h4.2V492.7h-4.2ZM545.3 492.0h4.2V500.0h-4.2ZM550.7 500.0h4.2V505.3h-4.2ZM556.1 504.0h4.2V520.0h-4.2ZM561.5 522.6h4.2V528.0h-4.2ZM566.9 528.0h4.2V532.0h-4.2ZM577.8 512.5h4.2V514.4h-4.2ZM588.6 497.3h4.2V502.6h-4.2ZM594.0 502.6h4.2V555.9h-4.2ZM599.4 555.4h4.2V574.6h-4.2ZM610.2 556.7h4.2V576.4h-4.2ZM615.7 576.4h4.2V581.2h-4.2ZM631.9 550.6h4.2V603.9h-4.2ZM642.7 602.6h4.2V614.5h-4.2ZM680.6 551.3h4.2V565.2h-4.2ZM686.0 564.7h4.2V575.3h-4.2ZM696.9 559.9h4.2V578.0h-4.2ZM702.3 578.0h4.2V583.8h-4.2ZM707.7 582.5h4.2V586.5h-4.2ZM713.1 581.7h4.2V595.8h-4.2ZM734.8 502.6h4.2V513.2h-4.2ZM740.2 511.9h4.2V516.4h-4.2ZM745.6 515.9h4.2V519.9h-4.2ZM756.4 516.4h4.2V532.7h-4.2ZM761.8 530.6h4.2V546.0h-4.2ZM772.7 534.5h4.2V539.1h-4.2ZM788.9 509.2h4.2V521.2h-4.2ZM794.3 520.4h4.2V561.2h-4.2ZM805.2 540.7h4.2V562.5h-4.2ZM810.6 560.7h4.2V568.4h-4.2ZM843.1 522.6h4.2V527.4h-4.2ZM848.5 525.8h4.2V532.7h-4.2ZM875.5 476.7h4.2V479.4h-4.2ZM886.4 459.1h4.2V467.9h-4.2ZM891.8 467.9h4.2V475.9h-4.2ZM902.6 462.6h4.2V464.7h-4.2ZM908.0 463.9h4.2V466.6h-4.2ZM913.4 468.7h4.2V494.6h-4.2ZM918.8 494.6h4.2V523.1h-4.2ZM924.3 523.1h4.2V541.7h-4.2ZM935.1 531.9h4.2V542.5h-4.2ZM956.7 506.6h4.2V513.2h-4.2ZM973.0 485.3h4.2V493.8h-4.2ZM978.4 493.8h4.2V513.2h-4.2ZM983.8 511.4h4.2V519.4h-4.2ZM1005.5 491.9h4.2V525.2h-4.2ZM1010.9 524.7h4.2V554.5h-4.2ZM1016.3 553.2h4.2V587.8h-4.2ZM1021.7 586.5h4.2V618.5h-4.2ZM1032.5 606.0h4.2V613.1h-4.2ZM1043.4 612.6h4.2V646.4h-4.2ZM1054.2 637.9h4.2V643.0h-4.2ZM1059.6 641.9h4.2V670.4h-4.2ZM1070.4 645.9h4.2V647.8h-4.2ZM1075.9 645.7h4.2V652.6h-4.2ZM1081.3 651.8h4.2V656.3h-4.2ZM1092.1 575.8h4.2V587.8h-4.2ZM1119.2 531.9h4.2V538.0h-4.2ZM1130.0 432.0h4.2V509.2h-4.2ZM1135.4 509.2h4.2V513.2h-4.2ZM1146.2 499.1h4.2V506.6h-4.2ZM1151.7 503.9h4.2V507.9h-4.2ZM1157.1 508.7h4.2V531.9h-4.2ZM1162.5 529.8h4.2V541.2h-4.2ZM1173.3 538.5h4.2V563.1h-4.2ZM1178.7 562.5h4.2V564.7h-4.2ZM1189.5 531.1h4.2V546.0h-4.2ZM1200.4 539.9h4.2V552.4h-4.2ZM1222.0 505.3h4.2V515.9h-4.2ZM1227.4 513.3h4.2V520.7h-4.2ZM1243.7 503.9h4.2V522.6h-4.2ZM1249.1 521.8h4.2V543.9h-4.2ZM1254.5 543.1h4.2V562.5h-4.2ZM1259.9 561.7h4.2V565.2h-4.2ZM1265.3 563.9h4.2V567.1h-4.2ZM1276.2 543.1h4.2V559.1h-4.2ZM1281.6 558.0h4.2V574.5h-4.2ZM1287.0 575.9h4.2V583.9h-4.2ZM1292.4 582.5h4.2V613.2h-4.2ZM1297.8 611.8h4.2V613.7h-4.2ZM1303.2 613.7h4.2V649.1h-4.2ZM1308.7 648.6h4.2V664.6h-4.2ZM1314.1 662.5h4.2V677.9h-4.2ZM1319.5 676.3h4.2V679.0h-4.2ZM1330.3 677.0h4.2V678.6h-4.2ZM1346.6 602.5h4.2V615.8h-4.2ZM1352.0 603.3h4.2V615.8h-4.2ZM1357.4 614.5h4.2V618.5h-4.2ZM1373.6 587.9h4.2V590.5h-4.2ZM1379.0 587.3h4.2V629.1h-4.2ZM1384.5 627.8h4.2V635.3h-4.2ZM1389.9 631.8h4.2V651.3h-4.2ZM1416.9 569.2h4.2V573.2h-4.2ZM1422.3 571.3h4.2V574.0h-4.2ZM1433.2 569.7h4.2V587.9h-4.2ZM1454.8 542.0h4.2V563.9h-4.2ZM1476.5 532.4h4.2V553.2h-4.2ZM1487.3 548.4h4.2V564.7h-4.2ZM1503.6 538.6h4.2V585.2h-4.2ZM1530.6 547.9h4.2V559.4h-4.2ZM1546.9 515.9h4.2V521.3h-4.2ZM1557.7 518.1h4.2V528.5h-4.2ZM1563.1 527.4h4.2V545.2h-4.2ZM1568.5 545.2h4.2V587.9h-4.2ZM1573.9 587.1h4.2V626.5h-4.2ZM1584.8 612.6h4.2V615.0h-4.2Z" fill="#f7343c"/>
</g>
<path d="M220.6 843.6v-2.2h3.8v2.2ZM226.1 843.6v-2.7h3.8v2.7ZM242.3 843.6v-5.2h3.8v5.2ZM253.1 843.6v-1.8h3.8v1.8ZM258.5 843.6v-2.0h3.8v2.0ZM269.4 843.6v-3.3h3.8v3.3ZM280.2 843.6v-2.7h3.8v2.7ZM285.6 843.6v-1.9h3.8v1.9ZM291.0 843.6v-2.9h3.8v2.9ZM307.3 843.6v-7.4h3.8v7.4ZM334.3 843.6v-4.9h3.8v4.9ZM345.2 843.6v-2.8h3.8v2.8ZM383.1 843.6v-1.5h3.8v1.5ZM415.5 843.6v-8.5h3.8v8.5ZM421.0 843.6v-3.1h3.8v3.1ZM437.2 843.6v-7.3h3.8v7.3ZM448.0 843.6v-2.5h3.8v2.5ZM453.4 843.6v-2.6h3.8v2.6ZM458.9 843.6v-3.1h3.8v3.1ZM464.3 843.6v-6.1h3.8v6.1ZM485.9 843.6v-3.4h3.8v3.4ZM491.3 843.6v-4.3h3.8v4.3ZM496.8 843.6v-3.7h3.8v3.7ZM502.2 843.6v-3.4h3.8v3.4ZM534.7 843.6v-7.5h3.8v7.5ZM572.6 843.6v-3.1h3.8v3.1ZM583.4 843.6v-2.8h3.8v2.8ZM605.0 843.6v-3.2h3.8v3.2ZM621.3 843.6v-3.3h3.8v3.3ZM626.7 843.6v-3.7h3.8v3.7ZM637.5 843.6v-1.7h3.8v1.7ZM648.3 843.6v-2.8h3.8v2.8ZM653.8 843.6v-2.9h3.8v2.9ZM659.2 843.6v-3.3h3.8v3.3ZM664.6 843.6v-4.1h3.8v4.1ZM670.0 843.6v-2.4h3.8v2.4ZM675.4 843.6v-2.5h3.8v2.5ZM691.7 843.6v-3.5h3.8v3.5ZM718.7 843.6v-3.7h3.8v3.7ZM724.1 843.6v-3.7h3.8v3.7ZM729.6 843.6v-7.3h3.8v7.3ZM751.2 843.6v-2.3h3.8v2.3ZM767.5 843.6v-2.7h3.8v2.7ZM778.3 843.6v-3.1h3.8v3.1ZM783.7 843.6v-2.9h3.8v2.9ZM799.9 843.6v-3.4h3.8v3.4ZM816.2 843.6v-4.3h3.8v4.3ZM821.6 843.6v-3.5h3.8v3.5ZM827.0 843.6v-4.0h3.8v4.0ZM832.4 843.6v-2.2h3.8v2.2ZM837.8 843.6v-2.6h3.8v2.6ZM854.1 843.6v-5.5h3.8v5.5ZM859.5 843.6v-3.4h3.8v3.4ZM864.9 843.6v-4.2h3.8v4.2ZM870.3 843.6v-1.8h3.8v1.8ZM881.1 843.6v-3.6h3.8v3.6ZM897.4 843.6v-3.5h3.8v3.5ZM929.9 843.6v-2.3h3.8v2.3ZM940.7 843.6v-2.5h3.8v2.5ZM946.1 843.6v-3.1h3.8v3.1ZM951.5 843.6v-3.4h3.8v3.4ZM962.4 843.6v-2.7h3.8v2.7ZM967.8 843.6v-2.2h3.8v2.2ZM989.4 843.6v-3.1h3.8v3.1ZM994.8 843.6v-1.7h3.8v1.7ZM1000.3 843.6v-2.0h3.8v2.0ZM1027.3 843.6v-5.0h3.8v5.0ZM1038.2 843.6v-1.6h3.8v1.6ZM1049.0 843.6v-13.0h3.8v13.0ZM1065.2 843.6v-2.0h3.8v2.0ZM1086.9 843.6v-12.0h3.8v12.0ZM1097.7 843.6v-2.0h3.8v2.0ZM1103.1 843.6v-1.6h3.8v1.6ZM1108.5 843.6v-3.0h3.8v3.0ZM1114.0 843.6v-5.6h3.8v5.6ZM1124.8 843.6v-7.0h3.8v7.0ZM1141.0 843.6v-4.0h3.8v4.0ZM1168.1 843.6v-2.0h3.8v2.0ZM1184.3 843.6v-10.0h3.8v10.0ZM1195.2 843.6v-2.0h3.8v2.0ZM1206.0 843.6v-3.0h3.8v3.0ZM1211.4 843.6v-5.6h3.8v5.6ZM1216.8 843.6v-8.6h3.8v8.6ZM1233.1 843.6v-1.6h3.8v1.6ZM1238.5 843.6v-2.6h3.8v2.6ZM1271.0 843.6v-3.6h3.8v3.6ZM1298.0 843.6v-2.6h3.8v2.6ZM1325.1 843.6v-5.6h3.8v5.6ZM1335.9 843.6v-17.6h3.8v17.6ZM1341.3 843.6v-60.6h3.8v60.6ZM1363.0 843.6v-3.6h3.8v3.6ZM1368.4 843.6v-10.6h3.8v10.6ZM1395.5 843.6v-6.6h3.8v6.6ZM1400.9 843.6v-21.2h3.8v21.2ZM1406.3 843.6v-25.6h3.8v25.6ZM1411.7 843.6v-63.6h3.8v63.6ZM1428.0 843.6v-5.6h3.8v5.6ZM1438.8 843.6v-51.6h3.8v51.6ZM1444.2 843.6v-54.6h3.8v54.6ZM1449.6 843.6v-46.0h3.8v46.0ZM1460.4 843.6v-7.6h3.8v7.6ZM1465.9 843.6v-15.2h3.8v15.2ZM1471.3 843.6v-23.0h3.8v23.0ZM1482.1 843.6v-1.6h3.8v1.6ZM1492.9 843.6v-6.6h3.8v6.6ZM1498.3 843.6v-30.6h3.8v30.6ZM1509.2 843.6v-71.2h3.8v71.2ZM1514.6 843.6v-36.6h3.8v36.6ZM1520.0 843.6v-7.6h3.8v7.6ZM1525.4 843.6v-7.6h3.8v7.6ZM1536.2 843.6v-43.2h3.8v43.2ZM1541.7 843.6v-69.2h3.8v69.2ZM1552.5 843.6v-3.6h3.8v3.6ZM1579.6 843.6v-2.6h3.8v2.6Z" fill="#7fccc0"/>
<path d="M204.4 843.6v-4.9h3.8v4.9ZM209.8 843.6v-4.0h3.8v4.0ZM215.2 843.6v-1.9h3.8v1.9ZM231.5 843.6v-3.1h3.8v3.1ZM236.9 843.6v-5.5h3.8v5.5ZM247.7 843.6v-5.7h3.8v5.7ZM264.0 843.6v-2.7h3.8v2.7ZM274.8 843.6v-4.3h3.8v4.3ZM296.4 843.6v-4.6h3.8v4.6ZM301.9 843.6v-3.5h3.8v3.5ZM312.7 843.6v-2.0h3.8v2.0ZM318.1 843.6v-2.8h3.8v2.8ZM323.5 843.6v-1.7h3.8v1.7ZM328.9 843.6v-4.3h3.8v4.3ZM339.8 843.6v-5.1h3.8v5.1ZM350.6 843.6v-1.7h3.8v1.7ZM356.0 843.6v-2.1h3.8v2.1ZM361.4 843.6v-3.8h3.8v3.8ZM366.8 843.6v-7.3h3.8v7.3ZM372.2 843.6v-6.0h3.8v6.0ZM377.6 843.6v-2.2h3.8v2.2ZM388.5 843.6v-1.7h3.8v1.7ZM393.9 843.6v-6.4h3.8v6.4ZM399.3 843.6v-4.7h3.8v4.7ZM404.7 843.6v-4.6h3.8v4.6ZM410.1 843.6v-4.0h3.8v4.0ZM426.4 843.6v-2.7h3.8v2.7ZM431.8 843.6v-4.1h3.8v4.1ZM442.6 843.6v-3.4h3.8v3.4ZM469.7 843.6v-3.4h3.8v3.4ZM475.1 843.6v-2.6h3.8v2.6ZM480.5 843.6v-3.4h3.8v3.4ZM507.6 843.6v-3.0h3.8v3.0ZM513.0 843.6v-2.4h3.8v2.4ZM518.4 843.6v-3.0h3.8v3.0ZM523.8 843.6v-3.1h3.8v3.1ZM529.2 843.6v-3.4h3.8v3.4ZM540.1 843.6v-1.9h3.8v1.9ZM545.5 843.6v-2.2h3.8v2.2ZM550.9 843.6v-1.9h3.8v1.9ZM556.3 843.6v-3.8h3.8v3.8ZM561.7 843.6v-5.4h3.8v5.4ZM567.1 843.6v-4.8h3.8v4.8ZM578.0 843.6v-2.1h3.8v2.1ZM588.8 843.6v-3.3h3.8v3.3ZM594.2 843.6v-6.5h3.8v6.5ZM599.6 843.6v-4.1h3.8v4.1ZM610.4 843.6v-3.0h3.8v3.0ZM615.9 843.6v-2.6h3.8v2.6ZM632.1 843.6v-6.1h3.8v6.1ZM642.9 843.6v-2.9h3.8v2.9ZM680.8 843.6v-2.5h3.8v2.5ZM686.2 843.6v-4.0h3.8v4.0ZM697.1 843.6v-4.0h3.8v4.0ZM702.5 843.6v-2.2h3.8v2.2ZM707.9 843.6v-2.0h3.8v2.0ZM713.3 843.6v-3.4h3.8v3.4ZM735.0 843.6v-2.3h3.8v2.3ZM740.4 843.6v-1.9h3.8v1.9ZM745.8 843.6v-2.2h3.8v2.2ZM756.6 843.6v-4.3h3.8v4.3ZM762.0 843.6v-3.6h3.8v3.6ZM772.9 843.6v-2.1h3.8v2.1ZM789.1 843.6v-4.4h3.8v4.4ZM794.5 843.6v-4.9h3.8v4.9ZM805.4 843.6v-3.4h3.8v3.4ZM810.8 843.6v-2.3h3.8v2.3ZM843.3 843.6v-2.0h3.8v2.0ZM848.7 843.6v-2.9h3.8v2.9ZM875.7 843.6v-1.9h3.8v1.9ZM886.6 843.6v-3.1h3.8v3.1ZM892.0 843.6v-5.4h3.8v5.4ZM902.8 843.6v-1.9h3.8v1.9ZM908.2 843.6v-2.2h3.8v2.2ZM913.6 843.6v-3.8h3.8v3.8ZM919.0 843.6v-5.3h3.8v5.3ZM924.5 843.6v-6.0h3.8v6.0ZM935.3 843.6v-2.3h3.8v2.3ZM956.9 843.6v-3.2h3.8v3.2ZM973.2 843.6v-2.5h3.8v2.5ZM978.6 843.6v-3.6h3.8v3.6ZM984.0 843.6v-3.2h3.8v3.2ZM1005.7 843.6v-2.0h3.8v2.0ZM1011.1 843.6v-4.0h3.8v4.0ZM1016.5 843.6v-5.6h3.8v5.6ZM1021.9 843.6v-10.0h3.8v10.0ZM1032.7 843.6v-2.4h3.8v2.4ZM1043.6 843.6v-4.0h3.8v4.0ZM1054.4 843.6v-11.0h3.8v11.0ZM1059.8 843.6v-8.0h3.8v8.0ZM1070.6 843.6v-3.0h3.8v3.0ZM1076.1 843.6v-3.0h3.8v3.0ZM1081.5 843.6v-5.6h3.8v5.6ZM1092.3 843.6v-5.0h3.8v5.0ZM1119.4 843.6v-9.0h3.8v9.0ZM1130.2 843.6v-5.0h3.8v5.0ZM1135.6 843.6v-2.4h3.8v2.4ZM1146.4 843.6v-7.0h3.8v7.0ZM1151.8 843.6v-10.0h3.8v10.0ZM1157.3 843.6v-5.0h3.8v5.0ZM1162.7 843.6v-2.0h3.8v2.0ZM1173.5 843.6v-6.0h3.8v6.0ZM1178.9 843.6v-7.0h3.8v7.0ZM1189.7 843.6v-4.0h3.8v4.0ZM1200.6 843.6v-2.4h3.8v2.4ZM1222.2 843.6v-4.6h3.8v4.6ZM1227.6 843.6v-1.6h3.8v1.6ZM1243.9 843.6v-6.6h3.8v6.6ZM1249.3 843.6v-22.2h3.8v22.2ZM1254.7 843.6v-4.6h3.8v4.6ZM1260.1 843.6v-1.6h3.8v1.6ZM1265.5 843.6v-1.6h3.8v1.6ZM1276.4 843.6v-6.6h3.8v6.6ZM1281.8 843.6v-10.6h3.8v10.6ZM1287.2 843.6v-4.6h3.8v4.6ZM1292.6 843.6v-4.6h3.8v4.6ZM1303.4 843.6v-13.6h3.8v13.6ZM1308.9 843.6v-11.6h3.8v11.6ZM1314.3 843.6v-42.6h3.8v42.6ZM1319.7 843.6v-30.6h3.8v30.6ZM1330.5 843.6v-3.6h3.8v3.6ZM1346.8 843.6v-48.0h3.8v48.0ZM1352.2 843.6v-26.0h3.8v26.0ZM1357.6 843.6v-3.6h3.8v3.6ZM1373.8 843.6v-28.0h3.8v28.0ZM1379.2 843.6v-60.6h3.8v60.6ZM1384.7 843.6v-32.6h3.8v32.6ZM1390.1 843.6v-5.6h3.8v5.6ZM1417.1 843.6v-28.6h3.8v28.6ZM1422.5 843.6v-6.6h3.8v6.6ZM1433.4 843.6v-23.2h3.8v23.2ZM1455.0 843.6v-7.6h3.8v7.6ZM1476.7 843.6v-19.2h3.8v19.2ZM1487.5 843.6v-5.6h3.8v5.6ZM1503.8 843.6v-67.6h3.8v67.6ZM1530.8 843.6v-24.0h3.8v24.0ZM1547.1 843.6v-25.0h3.8v25.0ZM1557.9 843.6v-4.6h3.8v4.6ZM1563.3 843.6v-26.0h3.8v26.0ZM1568.7 843.6v-73.2h3.8v73.2ZM1574.1 843.6v-142.5h3.8v142.5ZM1585.0 843.6v-1.6h3.8v1.6Z" fill="#f9a3a4"/>
<g font-family="'DejaVu Sans', 'Liberation Sans', sans-serif">
<text transform="translate(217.69 872.7) scale(1.3284 1)" font-size="15.2" font-weight="normal" fill="#131722" stroke="#131722" stroke-width="0.5">MACD (12, 26, close, 9, EMA, EMA)</text>
<text transform="translate(582.17 872.7) scale(1.1762 1)" font-size="15.2" font-weight="normal" fill="#ff5252" stroke="#ff5252" stroke-width="0.5">−0.34</text>
<text transform="translate(652.16 872.7) scale(1.1793 1)" font-size="15.2" font-weight="normal" fill="#2962ff" stroke="#2962ff" stroke-width="0.5">−0.20</text>
<text transform="translate(720.22 872.7) scale(1.3324 1)" font-size="15.2" font-weight="normal" fill="#ff6d00" stroke="#ff6d00" stroke-width="0.5">0.13</text>
</g>
<path d="M204.4 862.4v-5.0h3.8v5.0ZM307.3 862.4v-1.0h3.8v1.0ZM312.7 862.4v-2.6h3.8v2.6ZM318.1 862.4v-4.2h3.8v4.2ZM453.4 862.4v-1.0h3.8v1.0ZM458.9 862.4v-5.7h3.8v5.7ZM464.3 862.4v-8.7h3.8v8.7ZM469.7 862.4v-11.8h3.8v11.8ZM475.1 862.4v-12.0h3.8v12.0ZM480.5 862.4v-12.0h3.8v12.0ZM485.9 862.4v-12.0h3.8v12.0ZM491.3 862.4v-12.0h3.8v12.0ZM496.8 862.4v-12.0h3.8v12.0ZM502.2 862.4v-12.0h3.8v12.0ZM507.6 862.4v-12.0h3.8v12.0ZM513.0 862.4v-12.0h3.8v12.0ZM545.5 862.4v-6.9h3.8v6.9ZM675.4 862.4v-1.0h3.8v1.0ZM680.8 862.4v-1.5h3.8v1.5ZM686.2 862.4v-1.5h3.8v1.5ZM691.7 862.4v-1.5h3.8v1.5ZM697.1 862.4v-1.5h3.8v1.5ZM702.5 862.4v-1.8h3.8v1.8ZM707.9 862.4v-2.2h3.8v2.2ZM713.3 862.4v-2.6h3.8v2.6ZM718.7 862.4v-3.2h3.8v3.2ZM724.1 862.4v-4.6h3.8v4.6ZM729.6 862.4v-6.0h3.8v6.0ZM735.0 862.4v-7.2h3.8v7.2ZM783.7 862.4v-2.2h3.8v2.2ZM843.3 862.4v-0.8h3.8v0.8ZM848.7 862.4v-1.7h3.8v1.7ZM854.1 862.4v-3.0h3.8v3.0ZM859.5 862.4v-4.3h3.8v4.3ZM864.9 862.4v-5.5h3.8v5.5ZM870.3 862.4v-5.7h3.8v5.7ZM875.7 862.4v-5.7h3.8v5.7ZM1086.9 862.4v-1.6h3.8v1.6ZM1092.3 862.4v-4.6h3.8v4.6ZM1097.7 862.4v-7.3h3.8v7.3ZM1103.1 862.4v-8.9h3.8v8.9ZM1108.5 862.4v-10.4h3.8v10.4ZM1114.0 862.4v-12.0h3.8v12.0ZM1119.4 862.4v-12.0h3.8v12.0ZM1124.8 862.4v-12.0h3.8v12.0ZM1130.2 862.4v-12.0h3.8v12.0ZM1135.6 862.4v-12.0h3.8v12.0ZM1141.0 862.4v-12.0h3.8v12.0ZM1146.4 862.4v-12.0h3.8v12.0ZM1206.0 862.4v-0.4h3.8v0.4ZM1211.4 862.4v-0.9h3.8v0.9ZM1216.8 862.4v-1.6h3.8v1.6ZM1222.2 862.4v-1.8h3.8v1.8ZM1227.6 862.4v-1.9h3.8v1.9ZM1233.1 862.4v-2.0h3.8v2.0ZM1346.8 862.4v-2.3h3.8v2.3ZM1352.2 862.4v-3.8h3.8v3.8ZM1357.6 862.4v-5.3h3.8v5.3ZM1363.0 862.4v-6.1h3.8v6.1ZM1368.4 862.4v-6.8h3.8v6.8ZM1373.8 862.4v-7.5h3.8v7.5ZM1395.5 862.4v-1.8h3.8v1.8ZM1406.3 862.4v-2.0h3.8v2.0ZM1411.7 862.4v-3.5h3.8v3.5ZM1417.1 862.4v-4.3h3.8v4.3ZM1422.5 862.4v-4.5h3.8v4.5ZM1428.0 862.4v-4.7h3.8v4.7ZM1433.4 862.4v-5.2h3.8v5.2ZM1438.8 862.4v-5.7h3.8v5.7ZM1444.2 862.4v-6.2h3.8v6.2ZM1449.6 862.4v-6.7h3.8v6.7ZM1541.7 862.4v-0.7h3.8v0.7ZM1547.1 862.4v-1.4h3.8v1.4ZM1557.9 862.4v-1.5h3.8v1.5Z" fill="#26a69a"/>
<path d="M209.8 862.4v-2.8h3.8v2.8ZM215.2 862.4v-0.6h3.8v0.6ZM323.5 862.4v-3.9h3.8v3.9ZM328.9 862.4v-3.5h3.8v3.5ZM334.3 862.4v-3.2h3.8v3.2ZM339.8 862.4v-2.9h3.8v2.9ZM345.2 862.4v-2.8h3.8v2.8ZM350.6 862.4v-2.6h3.8v2.6ZM356.0 862.4v-2.5h3.8v2.5ZM361.4 862.4v-1.3h3.8v1.3ZM518.4 862.4v-10.7h3.8v10.7ZM523.8 862.4v-10.1h3.8v10.1ZM529.2 862.4v-9.0h3.8v9.0ZM534.7 862.4v-7.5h3.8v7.5ZM540.1 862.4v-6.7h3.8v6.7ZM550.9 862.4v-5.5h3.8v5.5ZM556.3 862.4v-3.9h3.8v3.9ZM561.7 862.4v-2.8h3.8v2.8ZM567.1 862.4v-1.9h3.8v1.9ZM572.6 862.4v-1.5h3.8v1.5ZM578.0 862.4v-1.2h3.8v1.2ZM583.4 862.4v-1.2h3.8v1.2ZM588.8 862.4v-0.8h3.8v0.8ZM740.4 862.4v-7.1h3.8v7.1ZM745.8 862.4v-7.0h3.8v7.0ZM751.2 862.4v-6.4h3.8v6.4ZM756.6 862.4v-4.4h3.8v4.4ZM762.0 862.4v-3.1h3.8v3.1ZM767.5 862.4v-2.1h3.8v2.1ZM772.9 862.4v-1.8h3.8v1.8ZM778.3 862.4v-1.8h3.8v1.8ZM789.1 862.4v-1.2h3.8v1.2ZM881.1 862.4v-5.7h3.8v5.7ZM886.6 862.4v-4.7h3.8v4.7ZM892.0 862.4v-4.2h3.8v4.2ZM897.4 862.4v-3.9h3.8v3.9ZM902.8 862.4v-2.5h3.8v2.5ZM908.2 862.4v-1.0h3.8v1.0ZM1151.8 862.4v-11.2h3.8v11.2ZM1157.3 862.4v-8.0h3.8v8.0ZM1162.7 862.4v-5.5h3.8v5.5ZM1168.1 862.4v-3.2h3.8v3.2ZM1173.5 862.4v-0.4h3.8v0.4ZM1238.5 862.4v-2.0h3.8v2.0ZM1243.9 862.4v-0.5h3.8v0.5ZM1379.2 862.4v-5.0h3.8v5.0ZM1384.7 862.4v-3.3h3.8v3.3ZM1390.1 862.4v-1.7h3.8v1.7ZM1400.9 862.4v-1.5h3.8v1.5ZM1455.0 862.4v-6.3h3.8v6.3ZM1460.4 862.4v-6.0h3.8v6.0ZM1465.9 862.4v-5.8h3.8v5.8ZM1471.3 862.4v-5.2h3.8v5.2ZM1476.7 862.4v-3.7h3.8v3.7ZM1482.1 862.4v-2.5h3.8v2.5ZM1487.5 862.4v-1.4h3.8v1.4ZM1492.9 862.4v-0.4h3.8v0.4ZM1552.5 862.4v-1.2h3.8v1.2Z" fill="#b2dfdb"/>
<path d="M220.6 862.4v1.0h3.8v-1.0ZM226.1 862.4v1.9h3.8v-1.9ZM231.5 862.4v2.8h3.8v-2.8ZM236.9 862.4v3.7h3.8v-3.7ZM242.3 862.4v3.9h3.8v-3.9ZM247.7 862.4v3.9h3.8v-3.9ZM253.1 862.4v3.9h3.8v-3.9ZM258.5 862.4v4.0h3.8v-4.0ZM264.0 862.4v5.1h3.8v-5.1ZM301.9 862.4v0.6h3.8v-0.6ZM366.8 862.4v0.5h3.8v-0.5ZM372.2 862.4v3.2h3.8v-3.2ZM377.6 862.4v6.1h3.8v-6.1ZM383.1 862.4v7.3h3.8v-7.3ZM388.5 862.4v8.3h3.8v-8.3ZM393.9 862.4v9.1h3.8v-9.1ZM399.3 862.4v10.1h3.8v-10.1ZM404.7 862.4v11.8h3.8v-11.8ZM410.1 862.4v12.0h3.8v-12.0ZM594.2 862.4v1.4h3.8v-1.4ZM599.6 862.4v3.3h3.8v-3.3ZM605.0 862.4v4.6h3.8v-4.6ZM610.4 862.4v5.8h3.8v-5.8ZM615.9 862.4v7.0h3.8v-7.0ZM621.3 862.4v7.3h3.8v-7.3ZM794.5 862.4v0.8h3.8v-0.8ZM799.9 862.4v2.6h3.8v-2.6ZM805.4 862.4v3.9h3.8v-3.9ZM810.8 862.4v4.9h3.8v-4.9ZM913.6 862.4v0.8h3.8v-0.8ZM919.0 862.4v3.6h3.8v-3.6ZM924.5 862.4v5.7h3.8v-5.7ZM929.9 862.4v6.9h3.8v-6.9ZM935.3 862.4v8.2h3.8v-8.2ZM973.2 862.4v0.4h3.8v-0.4ZM978.6 862.4v0.6h3.8v-0.6ZM984.0 862.4v1.0h3.8v-1.0ZM989.4 862.4v1.1h3.8v-1.1ZM1000.3 862.4v0.4h3.8v-0.4ZM1005.7 862.4v1.0h3.8v-1.0ZM1011.1 862.4v2.3h3.8v-2.3ZM1016.5 862.4v5.7h3.8v-5.7ZM1021.9 862.4v8.6h3.8v-8.6ZM1027.3 862.4v9.2h3.8v-9.2ZM1032.7 862.4v9.5h3.8v-9.5ZM1038.2 862.4v9.5h3.8v-9.5ZM1049.0 862.4v9.6h3.8v-9.6ZM1054.4 862.4v10.3h3.8v-10.3ZM1178.9 862.4v1.7h3.8v-1.7ZM1195.2 862.4v1.6h3.8v-1.6ZM1249.3 862.4v0.9h3.8v-0.9ZM1254.7 862.4v2.5h3.8v-2.5ZM1260.1 862.4v3.6h3.8v-3.6ZM1265.5 862.4v4.3h3.8v-4.3ZM1281.8 862.4v4.7h3.8v-4.7ZM1287.2 862.4v5.9h3.8v-5.9ZM1292.6 862.4v6.4h3.8v-6.4ZM1298.0 862.4v7.9h3.8v-7.9ZM1303.4 862.4v9.3h3.8v-9.3ZM1308.9 862.4v10.3h3.8v-10.3ZM1319.7 862.4v10.3h3.8v-10.3ZM1498.3 862.4v0.4h3.8v-0.4ZM1503.8 862.4v1.0h3.8v-1.0ZM1509.2 862.4v1.4h3.8v-1.4ZM1514.6 862.4v1.8h3.8v-1.8ZM1563.3 862.4v0.5h3.8v-0.5ZM1568.7 862.4v2.6h3.8v-2.6ZM1574.1 862.4v6.0h3.8v-6.0ZM1579.6 862.4v7.8h3.8v-7.8ZM1585.0 862.4v9.6h3.8v-9.6Z" fill="#ff5252"/>
<path d="M269.4 862.4v4.3h3.8v-4.3ZM274.8 862.4v3.5h3.8v-3.5ZM280.2 862.4v2.7h3.8v-2.7ZM285.6 862.4v1.9h3.8v-1.9ZM291.0 862.4v1.2h3.8v-1.2ZM296.4 862.4v0.4h3.8v-0.4ZM415.5 862.4v10.8h3.8v-10.8ZM421.0 862.4v9.0h3.8v-9.0ZM426.4 862.4v7.8h3.8v-7.8ZM431.8 862.4v6.1h3.8v-6.1ZM437.2 862.4v3.3h3.8v-3.3ZM442.6 862.4v1.7h3.8v-1.7ZM448.0 862.4v0.4h3.8v-0.4ZM626.7 862.4v6.9h3.8v-6.9ZM632.1 862.4v6.4h3.8v-6.4ZM637.5 862.4v6.0h3.8v-6.0ZM642.9 862.4v5.1h3.8v-5.1ZM648.3 862.4v4.1h3.8v-4.1ZM653.8 862.4v3.2h3.8v-3.2ZM659.2 862.4v2.2h3.8v-2.2ZM664.6 862.4v1.1h3.8v-1.1ZM670.0 862.4v0.4h3.8v-0.4ZM816.2 862.4v3.8h3.8v-3.8ZM821.6 862.4v2.8h3.8v-2.8ZM827.0 862.4v1.9h3.8v-1.9ZM832.4 862.4v0.8h3.8v-0.8ZM837.8 862.4v0.4h3.8v-0.4ZM940.7 862.4v6.8h3.8v-6.8ZM946.1 862.4v5.5h3.8v-5.5ZM951.5 862.4v4.0h3.8v-4.0ZM956.9 862.4v2.5h3.8v-2.5ZM962.4 862.4v1.4h3.8v-1.4ZM967.8 862.4v0.4h3.8v-0.4ZM994.8 862.4v0.4h3.8v-0.4ZM1043.6 862.4v9.5h3.8v-9.5ZM1059.8 862.4v10.0h3.8v-10.0ZM1065.2 862.4v7.8h3.8v-7.8ZM1070.6 862.4v6.3h3.8v-6.3ZM1076.1 862.4v5.0h3.8v-5.0ZM1081.5 862.4v2.4h3.8v-2.4ZM1184.3 862.4v1.6h3.8v-1.6ZM1189.7 862.4v1.5h3.8v-1.5ZM1200.6 862.4v1.0h3.8v-1.0ZM1271.0 862.4v4.2h3.8v-4.2ZM1276.4 862.4v3.9h3.8v-3.9ZM1314.3 862.4v10.2h3.8v-10.2ZM1325.1 862.4v9.0h3.8v-9.0ZM1330.5 862.4v7.6h3.8v-7.6ZM1335.9 862.4v5.5h3.8v-5.5ZM1341.3 862.4v0.8h3.8v-0.8ZM1520.0 862.4v1.8h3.8v-1.8ZM1525.4 862.4v1.4h3.8v-1.4ZM1530.8 862.4v1.1h3.8v-1.1ZM1536.2 862.4v0.4h3.8v-0.4Z" fill="#ffcdd2"/>
<path d="M205 862.4 H1713" stroke="#8c8f98" stroke-width="1.1" stroke-dasharray="8 6" fill="none" opacity="0.8"/>
<path d="M204.0 867.0C206.7 867.5 214.0 868.6 220.0 870.0C226.0 871.3 232.3 873.1 240.0 875.0C247.6 876.8 259.3 880.0 266.0 881.0C272.6 882.0 273.6 881.5 280.0 881.0C286.3 880.5 297.3 879.5 303.9 878.0C310.6 876.4 313.9 873.1 319.9 871.6C325.9 870.1 333.3 869.6 339.9 869.0C346.6 868.4 354.9 867.4 359.9 868.0C364.9 868.5 364.9 869.7 369.9 872.4C374.9 875.0 382.9 880.0 389.9 884.0C396.9 887.9 404.9 894.0 411.9 896.0C418.9 898.0 424.6 896.8 431.9 896.0C439.2 895.1 447.9 894.6 455.9 891.0C463.9 887.3 471.5 879.0 479.9 874.0C488.2 869.0 497.9 864.0 505.8 861.0C513.8 858.0 520.8 857.2 527.8 856.0C534.8 854.7 540.8 853.6 547.8 853.6C554.8 853.5 562.8 855.2 569.8 855.6C576.8 856.0 584.8 855.4 589.8 856.0C594.8 856.5 595.0 857.0 600.0 859.0C605.0 861.0 613.3 865.8 620.0 868.0C626.7 870.1 633.3 871.4 640.0 872.0C646.6 872.6 653.3 872.2 660.0 871.6C666.6 870.9 673.3 868.7 680.0 868.0C686.6 867.2 693.3 867.5 700.0 867.0C706.6 866.5 713.9 866.3 719.9 865.0C725.9 863.6 730.6 860.5 735.9 859.0C741.3 857.5 746.3 856.3 751.9 856.0C757.6 855.6 763.9 857.0 769.9 857.0C775.9 857.0 782.9 855.6 787.9 856.0C792.9 856.3 795.9 858.0 799.9 859.0C803.9 860.0 806.9 861.6 811.9 862.0C816.9 862.3 823.6 861.5 829.9 861.0C836.2 860.5 843.9 860.1 849.9 859.0C855.9 857.8 860.2 855.4 865.9 854.0C871.5 852.6 878.2 851.1 883.9 850.4C889.5 849.7 895.2 849.5 899.9 849.6C904.5 849.7 907.8 849.8 911.8 851.0C915.8 852.2 919.5 855.0 923.8 857.0C928.2 859.0 933.2 862.0 937.8 863.0C942.5 864.0 946.5 863.2 951.8 863.0C957.2 862.7 963.5 861.5 969.8 861.4C976.1 861.2 984.8 862.0 989.8 862.0C994.8 861.9 996.3 860.6 1000.0 861.0C1003.7 861.3 1008.0 862.2 1012.0 864.0C1016.0 865.7 1019.3 869.4 1024.0 871.6C1028.7 873.7 1034.0 875.0 1040.0 877.0C1046.0 879.0 1053.0 882.6 1060.0 883.6C1067.0 884.6 1077.0 883.9 1082.0 883.0C1087.0 882.0 1086.0 880.1 1090.0 878.0C1094.0 875.8 1100.6 872.6 1105.9 870.0C1111.3 867.3 1116.6 864.6 1121.9 862.0C1127.3 859.3 1132.9 855.7 1137.9 854.0C1142.9 852.2 1146.9 851.5 1151.9 851.4C1156.9 851.3 1163.3 852.6 1167.9 853.6C1172.6 854.6 1174.6 856.6 1179.9 857.4C1185.2 858.2 1193.2 858.6 1199.9 858.4C1206.6 858.1 1213.2 856.5 1219.9 856.0C1226.6 855.4 1234.5 854.6 1239.9 855.0C1245.2 855.3 1247.5 856.8 1251.9 858.0C1256.2 859.1 1261.2 861.0 1265.9 862.0C1270.5 863.0 1275.2 862.8 1279.9 864.0C1284.5 865.1 1288.9 866.8 1293.9 869.0C1298.9 871.1 1305.2 875.0 1309.8 877.0C1314.5 879.0 1317.5 880.1 1321.8 881.0C1326.2 881.8 1331.8 882.6 1335.8 882.0C1339.8 881.3 1341.8 878.6 1345.8 877.0C1349.8 875.4 1354.8 873.9 1359.8 872.4C1364.8 870.9 1372.4 868.7 1375.8 868.0C1379.2 867.2 1377.3 867.7 1380.0 868.0C1382.7 868.2 1387.7 869.6 1392.0 869.6C1396.3 869.6 1401.3 869.1 1406.0 868.0C1410.7 866.9 1415.0 864.5 1420.0 863.0C1425.0 861.5 1430.6 860.3 1436.0 859.0C1441.3 857.6 1446.0 856.1 1452.0 855.0C1458.0 853.9 1466.0 852.6 1472.0 852.4C1478.0 852.2 1482.6 853.4 1487.9 854.0C1493.3 854.6 1498.6 855.4 1503.9 856.0C1509.3 856.6 1514.6 857.4 1519.9 857.6C1525.3 857.7 1530.9 857.5 1535.9 857.0C1540.9 856.4 1545.9 854.9 1549.9 854.4C1553.9 853.9 1556.9 853.7 1559.9 854.0C1562.9 854.2 1565.2 854.8 1567.9 856.0C1570.6 857.1 1572.7 859.2 1575.9 861.0C1579.1 862.7 1585.1 865.5 1586.9 866.4" fill="none" stroke="#2962ff" stroke-width="1.9"/>
<path d="M204.0 871.0C206.7 870.7 214.0 869.3 220.0 869.6C226.0 869.8 233.3 871.1 240.0 872.4C246.6 873.6 253.3 875.9 260.0 877.0C266.6 878.1 273.3 878.7 280.0 879.0C286.6 879.2 293.3 879.1 300.0 878.4C306.6 877.6 313.3 875.6 319.9 874.4C326.6 873.1 333.3 871.8 339.9 871.0C346.6 870.2 353.3 869.1 359.9 869.6C366.6 870.1 373.2 871.7 379.9 874.0C386.6 876.2 393.2 880.4 399.9 883.0C406.6 885.6 413.2 888.0 419.9 889.6C426.6 891.1 433.2 892.0 439.9 892.4C446.5 892.7 453.2 892.8 459.9 891.6C466.5 890.3 473.2 887.7 479.9 885.0C486.5 882.2 493.2 878.3 499.9 875.0C506.5 871.6 513.2 867.6 519.8 865.0C526.5 862.3 533.2 860.3 539.8 859.0C546.5 857.6 553.2 857.4 559.8 857.0C566.5 856.6 573.1 856.6 579.8 856.6C586.5 856.6 593.3 855.9 600.0 857.0C606.7 858.0 613.3 861.1 620.0 863.0C626.7 864.8 633.3 866.8 640.0 868.0C646.6 869.1 653.3 869.8 660.0 870.0C666.6 870.1 673.3 869.3 680.0 869.0C686.6 868.6 693.3 868.3 700.0 868.0C706.6 867.6 713.3 867.8 719.9 867.0C726.6 866.1 733.3 864.3 739.9 863.0C746.6 861.6 753.3 859.9 759.9 859.0C766.6 858.1 773.2 857.8 779.9 857.6C786.6 857.3 793.9 857.3 799.9 857.6C805.9 857.8 810.6 858.6 815.9 859.0C821.2 859.4 826.2 859.8 831.9 860.0C837.5 860.1 843.5 860.5 849.9 860.0C856.2 859.5 863.2 858.1 869.9 857.0C876.5 855.8 883.2 853.9 889.9 853.0C896.5 852.1 904.2 851.3 909.8 851.4C915.5 851.5 918.8 852.5 923.8 853.6C928.8 854.7 934.5 856.8 939.8 858.0C945.2 859.1 949.8 860.0 955.8 860.6C961.8 861.1 968.4 861.3 975.8 861.4C983.2 861.4 993.3 860.6 1000.0 861.0C1006.7 861.3 1010.7 862.4 1016.0 863.6C1021.3 864.7 1026.3 866.2 1032.0 868.0C1037.6 869.7 1044.0 872.2 1050.0 874.0C1056.0 875.7 1062.3 877.3 1068.0 878.4C1073.6 879.5 1078.6 880.6 1084.0 880.6C1089.3 880.5 1094.6 879.2 1100.0 878.0C1105.3 876.7 1110.6 874.8 1115.9 873.0C1121.3 871.1 1126.6 869.0 1131.9 867.0C1137.3 864.9 1142.9 862.2 1147.9 860.6C1152.9 858.9 1157.3 857.7 1161.9 857.0C1166.6 856.2 1170.9 856.0 1175.9 856.0C1180.9 856.0 1186.6 856.7 1191.9 857.0C1197.2 857.2 1202.6 857.6 1207.9 857.6C1213.2 857.6 1218.6 857.2 1223.9 857.0C1229.2 856.8 1234.5 856.3 1239.9 856.4C1245.2 856.5 1250.5 857.0 1255.9 857.6C1261.2 858.2 1266.5 859.1 1271.9 860.0C1277.2 860.9 1282.5 861.6 1287.9 863.0C1293.2 864.3 1298.5 866.2 1303.8 868.0C1309.2 869.7 1314.8 872.1 1319.8 873.6C1324.8 875.1 1329.5 876.2 1333.8 877.0C1338.2 877.7 1341.5 878.1 1345.8 878.0C1350.2 877.8 1354.8 876.8 1359.8 876.0C1364.8 875.1 1372.4 873.7 1375.8 873.0C1379.2 872.2 1376.6 872.0 1380.0 871.6C1383.4 871.1 1390.7 871.0 1396.0 870.4C1401.3 869.8 1406.7 869.0 1412.0 868.0C1417.3 866.9 1422.6 865.1 1428.0 864.0C1433.3 862.8 1438.6 862.0 1444.0 861.0C1449.3 860.0 1454.6 858.9 1460.0 858.0C1465.3 857.1 1470.6 856.1 1476.0 855.6C1481.3 855.1 1486.6 855.0 1491.9 855.0C1497.3 855.0 1502.6 855.3 1507.9 855.6C1513.3 855.8 1518.6 856.2 1523.9 856.4C1529.3 856.5 1534.9 856.6 1539.9 856.4C1544.9 856.1 1549.6 855.2 1553.9 855.0C1558.2 854.7 1562.2 854.6 1565.9 855.0C1569.6 855.3 1572.4 856.1 1575.9 857.0C1579.4 857.8 1585.1 859.5 1586.9 860.0" fill="none" stroke="#ff6d00" stroke-width="1.9"/>
<rect x="205" y="911.4" width="1507" height="60.5" fill="#7e57c2" fill-opacity="0.1"/>
<path d="M205 956 H1712" stroke="#e6e3ef" stroke-width="1.2" fill="none"/>
<g stroke="#84878f" stroke-width="1.3" stroke-dasharray="8 6" fill="none"><path d="M205 911.4 H1713"/><path d="M205 971.9 H1713"/><path d="M205 942.2 H1713" stroke="#b5b7bf"/></g>
<g font-family="'DejaVu Sans', 'Liberation Sans', sans-serif">
<text transform="translate(217.69 931.1) scale(1.3288 1)" font-size="15.2" font-weight="normal" fill="#131722" stroke="#131722" stroke-width="0.5">RSI (14, close, SMA, 14, 2)</text>
<text transform="translate(497.94 931.1) scale(1.2778 1)" font-size="15.2" font-weight="normal" fill="#7e57c2" stroke="#7e57c2" stroke-width="0.5">38.33</text>
<text transform="translate(566.83 931.1) scale(1.2950 1)" font-size="15.2" font-weight="normal" fill="#f5dd1e" stroke="#f5dd1e" stroke-width="0.5">51.56</text>
<text transform="translate(643.05 931.1) scale(1.0909 1)" font-size="15.2" font-weight="normal" fill="#40434c" stroke="#40434c" stroke-width="0.5">∅</text>
<text transform="translate(672.05 931.1) scale(1.0909 1)" font-size="15.2" font-weight="normal" fill="#40434c" stroke="#40434c" stroke-width="0.5">∅</text>
</g>
<clipPath id="cr"><rect x="205" y="903" width="1508" height="79"/></clipPath>
<g clip-path="url(#cr)">
<path d="M394 972 L395 981.5 H415 L416 972Z" fill="#ffcdd2" opacity="0.8"/>
<path d="M1310 972 L1318 980 H1330 L1334 972Z" fill="#ffcdd2" opacity="0.7"/>
<path d="M204.0 954.9L210.0 957.9L216.0 958.9L228.0 948.9L234.0 955.9L238.0 967.9L243.0 967.9L249.0 976.9L260.0 972.9L265.0 974.9L272.0 965.9L278.0 967.9L292.0 959.9L298.0 963.9L303.9 964.9L308.9 934.9L314.9 934.9L321.9 941.9L324.9 941.3L329.9 951.9L335.9 945.9L341.9 949.9L347.9 944.5L355.9 945.5L363.9 948.9L367.9 966.9L373.9 975.9L387.9 976.9L394.9 981.5L414.9 981.5L417.9 977.9L423.9 973.9L433.9 978.9L439.9 968.3L444.9 970.3L455.9 962.9L460.9 955.9L465.9 937.9L473.9 939.9L481.9 942.3L487.9 935.9L492.9 926.9L499.9 924.9L519.8 932.9L529.8 932.9L537.8 928.9L549.8 927.9L557.8 934.9L567.8 939.9L572.8 932.9L579.8 932.9L583.8 928.9L589.8 930.9L594.8 950.9L600.0 957.9L607.0 950.9L614.0 956.9L622.0 953.9L628.0 944.9L634.0 959.9L640.0 959.9L645.0 962.9L656.0 952.9L666.0 941.9L671.0 940.9L677.0 935.5L683.0 942.3L688.0 945.9L694.0 940.5L698.0 946.9L705.9 949.5L714.9 952.9L719.9 941.9L725.9 934.9L731.9 919.6L737.9 923.9L747.9 926.9L752.9 926.5L763.9 939.9L769.9 934.9L775.9 937.5L784.9 926.5L788.9 930.5L795.9 947.5L801.5 940.5L807.9 947.9L812.9 948.9L819.9 941.9L827.9 933.5L832.9 935.9L838.9 932.9L849.9 936.9L855.9 922.5L860.9 923.5L865.9 920.0L876.9 920.5L882.9 915.4L893.9 923.5L899.9 919.4L905.8 920.5L909.8 924.9L915.8 937.9L920.8 947.9L926.2 956.3L931.8 953.9L937.8 956.5L943.8 950.9L947.8 942.9L952.8 939.3L957.8 940.5L962.8 936.9L969.4 929.5L975.8 935.5L980.8 942.9L985.8 944.9L989.8 937.9L1000.0 933.9L1003.0 933.9L1008.0 948.9L1015.0 960.9L1021.0 970.9L1024.0 973.9L1030.0 968.9L1035.0 970.9L1039.0 968.9L1045.0 976.5L1049.0 972.3L1055.0 972.9L1061.6 977.9L1067.0 966.9L1073.0 965.9L1077.0 967.9L1082.0 968.5L1088.0 937.5L1094.0 941.3L1099.0 939.9L1104.9 934.9L1109.9 932.9L1114.5 924.5L1119.9 926.3L1125.9 925.5L1131.9 919.0L1136.9 920.5L1142.9 917.4L1149.9 920.5L1154.9 922.5L1157.9 931.9L1163.9 936.3L1169.5 935.5L1175.5 945.5L1180.9 945.9L1185.9 934.3L1191.9 938.9L1197.9 935.9L1201.9 941.3L1207.9 930.9L1212.9 927.9L1217.9 926.3L1223.9 930.5L1229.5 933.3L1234.9 931.3L1239.9 927.9L1244.9 935.5L1249.9 944.9L1256.9 951.3L1261.9 951.9L1267.9 953.3L1273.5 942.3L1278.9 947.9L1282.9 953.9L1287.9 956.5L1293.9 965.5L1299.9 965.9L1305.8 973.9L1311.8 976.9L1317.8 979.5L1321.8 979.5L1327.8 977.9L1331.8 977.9L1336.8 965.9L1342.8 941.5L1347.8 941.5L1353.8 945.5L1359.8 946.9L1364.8 941.5L1369.4 935.5L1374.8 935.9L1380.0 947.9L1386.0 951.9L1391.6 957.9L1400.0 948.9L1407.0 940.9L1412.6 925.9L1420.0 928.3L1429.0 926.9L1435.6 934.9L1440.0 930.9L1446.0 922.9L1450.4 921.3L1456.0 929.5L1462.0 928.9L1468.0 922.9L1473.4 921.3L1479.0 929.9L1483.9 928.9L1489.5 936.3L1494.9 933.5L1499.3 926.9L1504.9 944.9L1509.9 941.9L1515.9 939.9L1522.9 933.5L1526.9 932.9L1531.9 936.5L1537.9 926.9L1542.9 922.9L1548.9 924.3L1553.5 923.9L1558.9 928.9L1563.9 934.9L1568.9 947.9L1574.9 962.9L1580.9 957.9L1585.9 958.5" fill="none" stroke="#7e57c2" stroke-width="1.9" stroke-linejoin="round"/>
<path d="M204.0 951.5C206.7 951.3 214.0 950.3 220.0 949.9C226.0 949.6 233.3 948.2 240.0 949.5C246.6 950.9 253.3 955.5 260.0 957.9C266.6 960.3 272.6 962.4 280.0 963.9C287.3 965.4 297.3 967.4 303.9 966.9C310.6 966.4 313.9 963.3 319.9 960.9C325.9 958.6 333.3 955.0 339.9 952.9C346.6 950.9 353.3 949.0 359.9 948.5C366.6 948.1 373.2 947.9 379.9 950.3C386.6 952.7 394.6 959.7 399.9 962.9C405.2 966.2 407.6 967.9 411.9 969.9C416.2 971.9 421.2 973.4 425.9 974.9C430.6 976.4 435.5 978.3 439.9 978.9C444.2 979.5 447.5 979.4 451.9 978.5C456.2 977.7 461.2 976.4 465.9 973.9C470.5 971.5 474.2 967.9 479.9 963.9C485.5 959.9 493.2 954.3 499.9 949.9C506.5 945.6 513.2 941.3 519.8 937.9C526.5 934.6 533.2 931.5 539.8 929.9C546.5 928.4 553.2 928.6 559.8 928.5C566.5 928.5 574.8 929.1 579.8 929.5C584.8 929.9 586.4 930.3 589.8 930.9C593.2 931.6 595.0 931.7 600.0 933.5C605.0 935.4 613.3 939.5 620.0 941.9C626.7 944.3 632.3 945.9 640.0 947.9C647.6 950.0 659.3 953.6 666.0 954.3C672.6 955.1 674.3 953.2 680.0 952.3C685.6 951.4 693.3 949.9 700.0 948.9C706.6 947.9 713.3 947.8 719.9 946.3C726.6 944.8 733.3 941.5 739.9 939.9C746.6 938.4 753.9 937.8 759.9 936.9C765.9 936.1 771.2 935.8 775.9 934.9C780.6 934.0 783.9 932.0 787.9 931.5C791.9 931.0 795.2 931.0 799.9 931.9C804.6 932.8 810.9 935.9 815.9 936.9C820.9 938.0 824.2 938.2 829.9 938.3C835.5 938.5 844.2 938.2 849.9 937.9C855.5 937.7 858.9 937.9 863.9 936.9C868.9 936.0 874.9 933.8 879.9 932.3C884.9 930.8 888.9 929.4 893.9 927.9C898.9 926.5 904.8 923.9 909.8 923.5C914.8 923.2 918.8 924.4 923.8 925.9C928.8 927.5 934.5 930.9 939.8 932.9C945.2 934.9 950.5 936.7 955.8 937.9C961.2 939.2 966.8 939.4 971.8 940.5C976.8 941.7 981.8 944.4 985.8 944.9C989.8 945.4 993.4 944.0 995.8 943.5C998.2 943.0 997.3 942.3 1000.0 941.9C1002.7 941.6 1008.0 940.7 1012.0 941.3C1016.0 942.0 1019.3 943.9 1024.0 945.9C1028.7 948.0 1034.6 951.0 1040.0 953.5C1045.3 956.0 1051.0 958.8 1056.0 960.9C1061.0 963.1 1065.3 964.9 1070.0 966.3C1074.6 967.8 1079.6 969.6 1084.0 969.5C1088.3 969.5 1092.0 967.5 1096.0 965.9C1100.0 964.3 1103.9 962.3 1107.9 959.9C1111.9 957.6 1115.3 954.9 1119.9 951.9C1124.6 949.0 1131.3 945.4 1135.9 942.3C1140.6 939.3 1144.3 935.8 1147.9 933.5C1151.6 931.2 1154.3 929.5 1157.9 928.5C1161.6 927.6 1165.6 927.9 1169.9 927.9C1174.2 928.0 1178.9 928.3 1183.9 928.9C1188.9 929.5 1194.6 930.7 1199.9 931.5C1205.2 932.4 1210.6 933.3 1215.9 933.9C1221.2 934.6 1226.6 935.2 1231.9 935.3C1237.2 935.4 1242.5 934.3 1247.9 934.5C1253.2 934.7 1258.5 935.9 1263.9 936.5C1269.2 937.2 1275.2 937.1 1279.9 938.3C1284.5 939.6 1287.5 941.8 1291.9 943.9C1296.2 946.0 1301.2 948.3 1305.8 950.9C1310.5 953.6 1315.5 957.6 1319.8 959.9C1324.2 962.3 1327.8 964.2 1331.8 964.9C1335.8 965.7 1339.2 964.7 1343.8 964.5C1348.5 964.4 1355.2 964.7 1359.8 963.9C1364.5 963.2 1368.5 960.9 1371.8 959.9C1375.2 958.9 1376.0 959.3 1380.0 957.9C1384.0 956.6 1390.7 954.3 1396.0 951.9C1401.3 949.6 1406.7 945.8 1412.0 943.9C1417.3 942.1 1422.6 941.9 1428.0 940.9C1433.3 939.9 1438.6 939.2 1444.0 937.9C1449.3 936.7 1455.3 934.9 1460.0 933.5C1464.6 932.1 1468.0 930.5 1472.0 929.5C1476.0 928.6 1479.3 928.0 1483.9 927.9C1488.6 927.8 1494.6 928.5 1499.9 928.9C1505.3 929.3 1510.6 929.7 1515.9 930.3C1521.3 931.0 1526.6 932.5 1531.9 932.9C1537.3 933.4 1543.3 933.0 1547.9 932.9C1552.6 932.8 1556.6 932.2 1559.9 932.3C1563.2 932.5 1565.2 933.2 1567.9 933.9C1570.6 934.7 1572.9 936.1 1575.9 936.9C1578.9 937.8 1584.2 938.6 1585.9 938.9" fill="none" stroke="#fbe528" stroke-width="1.9"/>
</g>
<g><ellipse cx="1587.4" cy="824.9" rx="18.3" ry="13.7" fill="#fff" stroke="#9c1fb4" stroke-width="2.9"/><path d="M1593.1 816.8 L1578.8 825.9 L1587.2 825.6 L1580.7 831.5 L1582.9 832.9 L1595.6 823.9 L1588.4 824.4 L1594.4 818.3 Z" fill="#9c1fb4"/></g>
<g font-family="'DejaVu Sans', 'Liberation Sans', sans-serif">
<text transform="translate(298.14 1008.3) scale(1.2913 1)" font-size="15.6" font-weight="normal" fill="#131722" stroke="#131722" stroke-width="0.75">May</text>
<text transform="translate(476.44 1008.3) scale(1.1139 1)" font-size="15.6" font-weight="normal" fill="#131722" stroke="#131722" stroke-width="0.3">8</text>
<text transform="translate(634.21 1008.3) scale(1.1411 1)" font-size="15.6" font-weight="normal" fill="#131722" stroke="#131722" stroke-width="0.3">15</text>
<text transform="translate(794.16 1008.3) scale(1.2656 1)" font-size="15.6" font-weight="normal" fill="#131722" stroke="#131722" stroke-width="0.3">22</text>
<text transform="translate(1044.25 1008.3) scale(1.5320 1)" font-size="15.6" font-weight="normal" fill="#131722" stroke="#131722" stroke-width="0.75">Jun</text>
<text transform="translate(1281.38 1008.3) scale(1.3353 1)" font-size="15.6" font-weight="normal" fill="#131722" stroke="#131722" stroke-width="0.3">12</text>
<text transform="translate(1443.95 1008.3) scale(1.2963 1)" font-size="15.6" font-weight="normal" fill="#131722" stroke="#131722" stroke-width="0.3">19</text>
<text transform="translate(1606.84 1008.3) scale(1.1949 1)" font-size="15.6" font-weight="normal" fill="#131722" stroke="#131722" stroke-width="0.3">26</text>
<text transform="translate(1727.29 344.5) scale(1.1808 1)" font-size="16.9" font-weight="normal" fill="#131722" stroke="#131722" stroke-width="0.25">78.00</text>
<rect x="1720" y="276" width="80" height="59" fill="#fff"/>
<text transform="translate(1731.43 298.2) scale(1.1244 1)" font-size="16.9" font-weight="normal" fill="#131722" >USD</text>
<text transform="translate(1731.06 326.2) scale(1.2149 1)" font-size="16.9" font-weight="normal" fill="#131722" >BLL</text>
<text transform="translate(1727.29 409.2) scale(1.1808 1)" font-size="16.9" font-weight="normal" fill="#131722" stroke="#131722" stroke-width="0.25">76.00</text>
<text transform="translate(1727.53 733.5) scale(1.1757 1)" font-size="16.9" font-weight="normal" fill="#131722" stroke="#131722" stroke-width="0.25">66.00</text>
<text transform="translate(1727.53 797.6) scale(1.1757 1)" font-size="16.9" font-weight="normal" fill="#131722" stroke="#131722" stroke-width="0.25">64.00</text>
<rect x="1712.7" y="455.4" width="81.3" height="25.0" rx="2.5" fill="#f7143f"/>
<text transform="translate(1727.56 474.0) scale(1.1843 1)" font-size="16.9" font-weight="normal" fill="#fff" stroke="#fff" stroke-width="0.8">73.42</text>
<rect x="1712.7" y="480.2" width="81.3" height="26.0" rx="2.5" fill="#2962ff"/>
<text transform="translate(1727.58 499.3) scale(1.1714 1)" font-size="16.9" font-weight="normal" fill="#fff" stroke="#fff" stroke-width="0.8">73.09</text>
<rect x="1712.7" y="506" width="81.3" height="24.5" rx="2.5" fill="#f7143f"/>
<text transform="translate(1727.57 524.4) scale(1.1791 1)" font-size="16.9" font-weight="normal" fill="#fff" stroke="#fff" stroke-width="0.8">71.65</text>
<rect x="1712.7" y="530.3" width="81.3" height="25.1" rx="2.5" fill="#ff6d00"/>
<text transform="translate(1727.58 549.0) scale(1.1688 1)" font-size="16.9" font-weight="normal" fill="#fff" stroke="#fff" stroke-width="0.8">71.16</text>
<rect x="1712.7" y="555.2" width="81.3" height="24.2" rx="2.5" fill="#f7143f"/>
<text transform="translate(1727.58 573.4) scale(1.1688 1)" font-size="16.9" font-weight="normal" fill="#fff" stroke="#fff" stroke-width="0.8">70.26</text>
<rect x="1712.7" y="579.2" width="81.3" height="24.4" rx="2.5" fill="#ffb300"/>
<text transform="translate(1727.82 597.5) scale(1.1638 1)" font-size="16.9" font-weight="normal" fill="#131722" stroke="#131722" stroke-width="0.8">69.50</text>
<rect x="1712.7" y="698" width="81.3" height="24.5" rx="2.5" fill="#0a8a2e"/>
<text transform="translate(1727.81 716.5) scale(1.1714 1)" font-size="16.9" font-weight="normal" fill="#fff" stroke="#fff" stroke-width="0.8">67.37</text>
<rect x="1712.7" y="674" width="81.3" height="24.4" rx="2.5" fill="#0a8a2e"/>
<text transform="translate(1727.81 692.2) scale(1.1765 1)" font-size="16.9" font-weight="normal" fill="#fff" stroke="#fff" stroke-width="0.8">68.31</text>
<rect x="1712.7" y="649.2" width="81.3" height="25.0" rx="2.5" fill="#2962ff"/>
<text transform="translate(1727.80 667.8) scale(1.1791 1)" font-size="16.9" font-weight="normal" fill="#fff" stroke="#fff" stroke-width="0.8">69.22</text>
<rect x="1712.7" y="603.4" width="113.0" height="45.8" rx="2.5" fill="#f8464f"/>
<text transform="translate(1727.81 622.4) scale(1.1714 1)" font-size="16.9" font-weight="normal" fill="#fff" stroke="#fff" stroke-width="0.8">69.43</text>
<text transform="translate(1726.83 643.6) scale(1.1772 1)" font-size="16.9" font-weight="normal" fill="#ffe3e4" stroke="#ffe3e4" stroke-width="0.25">02:26:14</text>
<clipPath id="cm"><rect x="1712" y="843.5" width="90" height="14"/></clipPath>
<g clip-path="url(#cm)"><rect x="1712.7" y="835" width="81.3" height="22.0" rx="2.5" fill="#2962ff"/><text transform="translate(1726.19 851.2) scale(1.1236 1)" font-size="16.9" font-weight="normal" fill="#fff" stroke="#fff" stroke-width="0.8">−0.20</text></g>
<rect x="1712.7" y="857" width="81.3" height="24.6" rx="2.5" fill="#f8464f"/>
<text transform="translate(1726.20 875.5) scale(1.1191 1)" font-size="16.9" font-weight="normal" fill="#fff" stroke="#fff" stroke-width="0.8">−0.34</text>
<rect x="1712.7" y="818.8" width="94.0" height="24.8" rx="2.5" fill="#f8464f"/>
<text transform="translate(1726.93 837.4) scale(1.1518 1)" font-size="16.9" font-weight="normal" fill="#fff" stroke="#fff" stroke-width="0.8">1.593K</text>
<rect x="1712.7" y="921.6" width="81.3" height="26.0" rx="2.5" fill="#ffeb00"/>
<text transform="translate(1726.89 940.7) scale(1.1645 1)" font-size="16.9" font-weight="normal" fill="#131722" stroke="#131722" stroke-width="0.8">51.56</text>
<rect x="1712.7" y="947.4" width="81.3" height="24.7" rx="2.5" fill="#7e57c2"/>
<text transform="translate(1727.00 966.0) scale(1.1696 1)" font-size="16.9" font-weight="normal" fill="#fff" stroke="#fff" stroke-width="0.8">38.33</text>
</g>
<text x="1305.7" y="1096.2" font-family="'Liberation Sans', sans-serif" font-weight="bold" font-style="italic" font-size="29" fill="#fff" textLength="651" lengthAdjust="spacingAndGlyphs">Nguồn: Sở Giao dịch Hàng hóa Việt Nam (MXV)</text>
</svg></body></html>
